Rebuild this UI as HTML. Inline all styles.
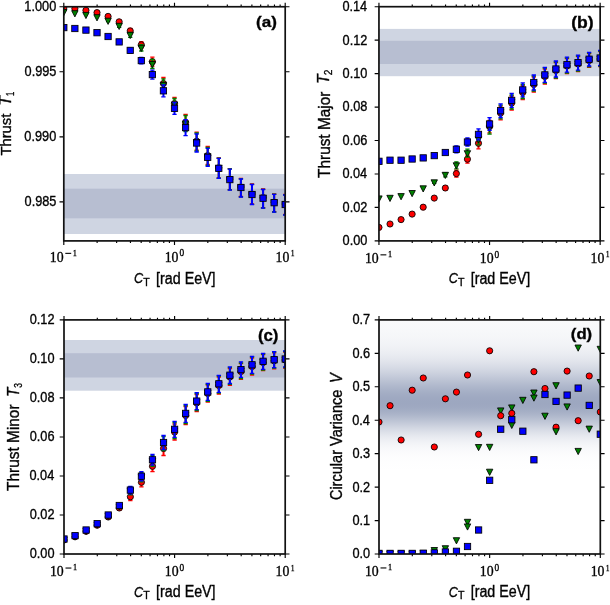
<!DOCTYPE html>
<html><head><meta charset="utf-8"><style>
html,body{margin:0;padding:0;background:#fff;}
body{width:610px;height:605px;overflow:hidden;}
svg{display:block;}
</style></head><body>
<svg width="610" height="605" viewBox="0 0 610 605">
<defs>
<clipPath id="clipa"><rect x="63.8" y="6.75" width="221.39999999999998" height="234.15"/></clipPath>
<clipPath id="clipb"><rect x="378.95" y="6.7" width="221.2" height="234.20000000000002"/></clipPath>
<clipPath id="clipc"><rect x="64.0" y="319.9" width="221.2" height="234.10000000000002"/></clipPath>
<clipPath id="clipd"><rect x="379.0" y="319.9" width="221.29999999999995" height="234.10000000000002"/></clipPath>
<linearGradient id="gd" x1="0" y1="319.9" x2="0" y2="554.0" gradientUnits="userSpaceOnUse"><stop offset="0.0000" stop-color="#253c73" stop-opacity="0.0268"/><stop offset="0.0083" stop-color="#253c73" stop-opacity="0.0283"/><stop offset="0.0167" stop-color="#253c73" stop-opacity="0.0299"/><stop offset="0.0250" stop-color="#253c73" stop-opacity="0.0316"/><stop offset="0.0333" stop-color="#253c73" stop-opacity="0.0335"/><stop offset="0.0417" stop-color="#253c73" stop-opacity="0.0356"/><stop offset="0.0500" stop-color="#253c73" stop-opacity="0.0378"/><stop offset="0.0583" stop-color="#253c73" stop-opacity="0.0404"/><stop offset="0.0667" stop-color="#253c73" stop-opacity="0.0432"/><stop offset="0.0750" stop-color="#253c73" stop-opacity="0.0464"/><stop offset="0.0833" stop-color="#253c73" stop-opacity="0.0499"/><stop offset="0.0917" stop-color="#253c73" stop-opacity="0.0540"/><stop offset="0.1000" stop-color="#253c73" stop-opacity="0.0585"/><stop offset="0.1083" stop-color="#253c73" stop-opacity="0.0637"/><stop offset="0.1167" stop-color="#253c73" stop-opacity="0.0695"/><stop offset="0.1250" stop-color="#253c73" stop-opacity="0.0760"/><stop offset="0.1333" stop-color="#253c73" stop-opacity="0.0834"/><stop offset="0.1417" stop-color="#253c73" stop-opacity="0.0917"/><stop offset="0.1500" stop-color="#253c73" stop-opacity="0.1009"/><stop offset="0.1583" stop-color="#253c73" stop-opacity="0.1111"/><stop offset="0.1667" stop-color="#253c73" stop-opacity="0.1223"/><stop offset="0.1750" stop-color="#253c73" stop-opacity="0.1347"/><stop offset="0.1833" stop-color="#253c73" stop-opacity="0.1481"/><stop offset="0.1917" stop-color="#253c73" stop-opacity="0.1627"/><stop offset="0.2000" stop-color="#253c73" stop-opacity="0.1782"/><stop offset="0.2083" stop-color="#253c73" stop-opacity="0.1948"/><stop offset="0.2167" stop-color="#253c73" stop-opacity="0.2123"/><stop offset="0.2250" stop-color="#253c73" stop-opacity="0.2306"/><stop offset="0.2333" stop-color="#253c73" stop-opacity="0.2495"/><stop offset="0.2417" stop-color="#253c73" stop-opacity="0.2689"/><stop offset="0.2500" stop-color="#253c73" stop-opacity="0.2885"/><stop offset="0.2583" stop-color="#253c73" stop-opacity="0.3082"/><stop offset="0.2667" stop-color="#253c73" stop-opacity="0.3276"/><stop offset="0.2750" stop-color="#253c73" stop-opacity="0.3464"/><stop offset="0.2833" stop-color="#253c73" stop-opacity="0.3645"/><stop offset="0.2917" stop-color="#253c73" stop-opacity="0.3816"/><stop offset="0.3000" stop-color="#253c73" stop-opacity="0.3972"/><stop offset="0.3083" stop-color="#253c73" stop-opacity="0.4113"/><stop offset="0.3167" stop-color="#253c73" stop-opacity="0.4235"/><stop offset="0.3250" stop-color="#253c73" stop-opacity="0.4335"/><stop offset="0.3333" stop-color="#253c73" stop-opacity="0.4413"/><stop offset="0.3417" stop-color="#253c73" stop-opacity="0.4467"/><stop offset="0.3500" stop-color="#253c73" stop-opacity="0.4495"/><stop offset="0.3583" stop-color="#253c73" stop-opacity="0.4497"/><stop offset="0.3667" stop-color="#253c73" stop-opacity="0.4458"/><stop offset="0.3750" stop-color="#253c73" stop-opacity="0.4378"/><stop offset="0.3833" stop-color="#253c73" stop-opacity="0.4259"/><stop offset="0.3917" stop-color="#253c73" stop-opacity="0.4104"/><stop offset="0.4000" stop-color="#253c73" stop-opacity="0.3917"/><stop offset="0.4083" stop-color="#253c73" stop-opacity="0.3703"/><stop offset="0.4167" stop-color="#253c73" stop-opacity="0.3467"/><stop offset="0.4250" stop-color="#253c73" stop-opacity="0.3216"/><stop offset="0.4333" stop-color="#253c73" stop-opacity="0.2955"/><stop offset="0.4417" stop-color="#253c73" stop-opacity="0.2689"/><stop offset="0.4500" stop-color="#253c73" stop-opacity="0.2424"/><stop offset="0.4583" stop-color="#253c73" stop-opacity="0.2165"/><stop offset="0.4667" stop-color="#253c73" stop-opacity="0.1915"/><stop offset="0.4750" stop-color="#253c73" stop-opacity="0.1677"/><stop offset="0.4833" stop-color="#253c73" stop-opacity="0.1456"/><stop offset="0.4917" stop-color="#253c73" stop-opacity="0.1251"/><stop offset="0.5000" stop-color="#253c73" stop-opacity="0.1065"/><stop offset="0.5083" stop-color="#253c73" stop-opacity="0.0899"/><stop offset="0.5167" stop-color="#253c73" stop-opacity="0.0751"/><stop offset="0.5250" stop-color="#253c73" stop-opacity="0.0621"/><stop offset="0.5333" stop-color="#253c73" stop-opacity="0.0509"/><stop offset="0.5417" stop-color="#253c73" stop-opacity="0.0413"/><stop offset="0.5500" stop-color="#253c73" stop-opacity="0.0332"/><stop offset="0.5583" stop-color="#253c73" stop-opacity="0.0265"/><stop offset="0.5667" stop-color="#253c73" stop-opacity="0.0209"/><stop offset="0.5750" stop-color="#253c73" stop-opacity="0.0163"/><stop offset="0.5833" stop-color="#253c73" stop-opacity="0.0126"/><stop offset="0.5917" stop-color="#253c73" stop-opacity="0.0097"/><stop offset="0.6000" stop-color="#253c73" stop-opacity="0.0074"/><stop offset="0.6083" stop-color="#253c73" stop-opacity="0.0055"/><stop offset="0.6167" stop-color="#253c73" stop-opacity="0.0041"/><stop offset="0.6250" stop-color="#253c73" stop-opacity="0.0030"/><stop offset="0.6333" stop-color="#253c73" stop-opacity="0.0022"/><stop offset="0.6417" stop-color="#253c73" stop-opacity="0.0016"/><stop offset="0.6500" stop-color="#253c73" stop-opacity="0.0012"/><stop offset="0.6583" stop-color="#253c73" stop-opacity="0.0008"/><stop offset="0.6667" stop-color="#253c73" stop-opacity="0.0006"/><stop offset="0.6750" stop-color="#253c73" stop-opacity="0.0004"/><stop offset="0.6833" stop-color="#253c73" stop-opacity="0.0003"/><stop offset="0.6917" stop-color="#253c73" stop-opacity="0.0002"/><stop offset="0.7000" stop-color="#253c73" stop-opacity="0.0001"/><stop offset="0.7083" stop-color="#253c73" stop-opacity="0.0001"/><stop offset="0.7167" stop-color="#253c73" stop-opacity="0.0001"/><stop offset="0.7250" stop-color="#253c73" stop-opacity="0.0000"/><stop offset="0.7333" stop-color="#253c73" stop-opacity="0.0000"/><stop offset="0.7417" stop-color="#253c73" stop-opacity="0.0000"/><stop offset="0.7500" stop-color="#253c73" stop-opacity="0.0000"/><stop offset="0.7583" stop-color="#253c73" stop-opacity="0.0000"/><stop offset="0.7667" stop-color="#253c73" stop-opacity="0.0000"/><stop offset="0.7750" stop-color="#253c73" stop-opacity="0.0000"/><stop offset="0.7833" stop-color="#253c73" stop-opacity="0.0000"/><stop offset="0.7917" stop-color="#253c73" stop-opacity="0.0000"/><stop offset="0.8000" stop-color="#253c73" stop-opacity="0.0000"/><stop offset="0.8083" stop-color="#253c73" stop-opacity="0.0000"/><stop offset="0.8167" stop-color="#253c73" stop-opacity="0.0000"/><stop offset="0.8250" stop-color="#253c73" stop-opacity="0.0000"/><stop offset="0.8333" stop-color="#253c73" stop-opacity="0.0000"/><stop offset="0.8417" stop-color="#253c73" stop-opacity="0.0000"/><stop offset="0.8500" stop-color="#253c73" stop-opacity="0.0000"/><stop offset="0.8583" stop-color="#253c73" stop-opacity="0.0000"/><stop offset="0.8667" stop-color="#253c73" stop-opacity="0.0000"/><stop offset="0.8750" stop-color="#253c73" stop-opacity="0.0000"/><stop offset="0.8833" stop-color="#253c73" stop-opacity="0.0000"/><stop offset="0.8917" stop-color="#253c73" stop-opacity="0.0000"/><stop offset="0.9000" stop-color="#253c73" stop-opacity="0.0000"/><stop offset="0.9083" stop-color="#253c73" stop-opacity="0.0000"/><stop offset="0.9167" stop-color="#253c73" stop-opacity="0.0000"/><stop offset="0.9250" stop-color="#253c73" stop-opacity="0.0000"/><stop offset="0.9333" stop-color="#253c73" stop-opacity="0.0000"/><stop offset="0.9417" stop-color="#253c73" stop-opacity="0.0000"/><stop offset="0.9500" stop-color="#253c73" stop-opacity="0.0000"/><stop offset="0.9583" stop-color="#253c73" stop-opacity="0.0000"/><stop offset="0.9667" stop-color="#253c73" stop-opacity="0.0000"/><stop offset="0.9750" stop-color="#253c73" stop-opacity="0.0000"/><stop offset="0.9833" stop-color="#253c73" stop-opacity="0.0000"/><stop offset="0.9917" stop-color="#253c73" stop-opacity="0.0000"/><stop offset="1.0000" stop-color="#253c73" stop-opacity="0.0000"/></linearGradient>
</defs>
<rect width="610" height="605" fill="#ffffff"/>
<g clip-path="url(#clipa)">
<rect x="64" y="174.0" width="221.1" height="60.0" fill="#cfd5e2"/>
<rect x="64" y="188.7" width="221.1" height="29.6" fill="#b7bed1"/>
<path d="M108.08,15.40V17.40" stroke="#ff0000" stroke-width="2.0" fill="none"/><path d="M105.93,15.40H110.23M105.93,17.40H110.23" stroke="#ff0000" stroke-width="1.3" fill="none"/><path d="M119.15,20.30V23.30" stroke="#ff0000" stroke-width="2.0" fill="none"/><path d="M117.00,20.30H121.30M117.00,23.30H121.30" stroke="#ff0000" stroke-width="1.3" fill="none"/><path d="M130.22,28.40V33.40" stroke="#ff0000" stroke-width="2.0" fill="none"/><path d="M128.07,28.40H132.37M128.07,33.40H132.37" stroke="#ff0000" stroke-width="1.3" fill="none"/><path d="M141.29,41.60V48.00" stroke="#ff0000" stroke-width="2.0" fill="none"/><path d="M139.14,41.60H143.44M139.14,48.00H143.44" stroke="#ff0000" stroke-width="1.3" fill="none"/><path d="M152.36,57.20V66.20" stroke="#ff0000" stroke-width="2.0" fill="none"/><path d="M150.21,57.20H154.51M150.21,66.20H154.51" stroke="#ff0000" stroke-width="1.3" fill="none"/><path d="M163.43,77.50V89.50" stroke="#ff0000" stroke-width="2.0" fill="none"/><path d="M161.28,77.50H165.58M161.28,89.50H165.58" stroke="#ff0000" stroke-width="1.3" fill="none"/><path d="M174.50,97.50V109.50" stroke="#ff0000" stroke-width="2.0" fill="none"/><path d="M172.35,97.50H176.65M172.35,109.50H176.65" stroke="#ff0000" stroke-width="1.3" fill="none"/><path d="M185.57,114.50V130.50" stroke="#ff0000" stroke-width="2.0" fill="none"/><path d="M183.42,114.50H187.72M183.42,130.50H187.72" stroke="#ff0000" stroke-width="1.3" fill="none"/><path d="M196.64,132.20V150.20" stroke="#ff0000" stroke-width="2.0" fill="none"/><path d="M194.49,132.20H198.79M194.49,150.20H198.79" stroke="#ff0000" stroke-width="1.3" fill="none"/><path d="M207.71,146.50V164.50" stroke="#ff0000" stroke-width="2.0" fill="none"/><path d="M205.56,146.50H209.86M205.56,164.50H209.86" stroke="#ff0000" stroke-width="1.3" fill="none"/><path d="M218.78,157.80V177.80" stroke="#ff0000" stroke-width="2.0" fill="none"/><path d="M216.63,157.80H220.93M216.63,177.80H220.93" stroke="#ff0000" stroke-width="1.3" fill="none"/><path d="M229.85,168.60V189.60" stroke="#ff0000" stroke-width="2.0" fill="none"/><path d="M227.70,168.60H232.00M227.70,189.60H232.00" stroke="#ff0000" stroke-width="1.3" fill="none"/><path d="M240.92,178.50V196.50" stroke="#ff0000" stroke-width="2.0" fill="none"/><path d="M238.77,178.50H243.07M238.77,196.50H243.07" stroke="#ff0000" stroke-width="1.3" fill="none"/><path d="M251.99,184.00V204.00" stroke="#ff0000" stroke-width="2.0" fill="none"/><path d="M249.84,184.00H254.14M249.84,204.00H254.14" stroke="#ff0000" stroke-width="1.3" fill="none"/><path d="M263.06,189.00V207.70" stroke="#ff0000" stroke-width="2.0" fill="none"/><path d="M260.91,189.00H265.21M260.91,207.70H265.21" stroke="#ff0000" stroke-width="1.3" fill="none"/><path d="M274.13,193.90V211.70" stroke="#ff0000" stroke-width="2.0" fill="none"/><path d="M271.98,193.90H276.28M271.98,211.70H276.28" stroke="#ff0000" stroke-width="1.3" fill="none"/><path d="M285.20,194.50V214.50" stroke="#ff0000" stroke-width="2.0" fill="none"/><path d="M283.05,194.50H287.35M283.05,214.50H287.35" stroke="#ff0000" stroke-width="1.3" fill="none"/><circle cx="63.80" cy="8.00" r="3.1" fill="#ff0000" stroke="#000000" stroke-width="0.85"/><circle cx="74.87" cy="8.60" r="3.1" fill="#ff0000" stroke="#000000" stroke-width="0.85"/><circle cx="85.94" cy="10.30" r="3.1" fill="#ff0000" stroke="#000000" stroke-width="0.85"/><circle cx="97.01" cy="12.60" r="3.1" fill="#ff0000" stroke="#000000" stroke-width="0.85"/><circle cx="108.08" cy="16.40" r="3.1" fill="#ff0000" stroke="#000000" stroke-width="0.85"/><circle cx="119.15" cy="21.80" r="3.1" fill="#ff0000" stroke="#000000" stroke-width="0.85"/><circle cx="130.22" cy="30.90" r="3.1" fill="#ff0000" stroke="#000000" stroke-width="0.85"/><circle cx="141.29" cy="44.80" r="3.1" fill="#ff0000" stroke="#000000" stroke-width="0.85"/><circle cx="152.36" cy="61.70" r="3.1" fill="#ff0000" stroke="#000000" stroke-width="0.85"/><circle cx="163.43" cy="83.50" r="3.1" fill="#ff0000" stroke="#000000" stroke-width="0.85"/><circle cx="174.50" cy="103.50" r="3.1" fill="#ff0000" stroke="#000000" stroke-width="0.85"/><circle cx="185.57" cy="122.50" r="3.1" fill="#ff0000" stroke="#000000" stroke-width="0.85"/><circle cx="196.64" cy="141.20" r="3.1" fill="#ff0000" stroke="#000000" stroke-width="0.85"/><circle cx="207.71" cy="155.50" r="3.1" fill="#ff0000" stroke="#000000" stroke-width="0.85"/><circle cx="218.78" cy="167.80" r="3.1" fill="#ff0000" stroke="#000000" stroke-width="0.85"/><circle cx="229.85" cy="179.10" r="3.1" fill="#ff0000" stroke="#000000" stroke-width="0.85"/><circle cx="240.92" cy="187.00" r="3.1" fill="#ff0000" stroke="#000000" stroke-width="0.85"/><circle cx="251.99" cy="194.00" r="3.1" fill="#ff0000" stroke="#000000" stroke-width="0.85"/><circle cx="263.06" cy="197.70" r="3.1" fill="#ff0000" stroke="#000000" stroke-width="0.85"/><circle cx="274.13" cy="202.20" r="3.1" fill="#ff0000" stroke="#000000" stroke-width="0.85"/><circle cx="285.20" cy="204.00" r="3.1" fill="#ff0000" stroke="#000000" stroke-width="0.85"/>
<path d="M108.08,19.70V21.70" stroke="#008000" stroke-width="2.0" fill="none"/><path d="M105.93,19.70H110.23M105.93,21.70H110.23" stroke="#008000" stroke-width="1.3" fill="none"/><path d="M119.15,24.30V27.30" stroke="#008000" stroke-width="2.0" fill="none"/><path d="M117.00,24.30H121.30M117.00,27.30H121.30" stroke="#008000" stroke-width="1.3" fill="none"/><path d="M130.22,32.40V37.40" stroke="#008000" stroke-width="2.0" fill="none"/><path d="M128.07,32.40H132.37M128.07,37.40H132.37" stroke="#008000" stroke-width="1.3" fill="none"/><path d="M141.29,44.60V51.00" stroke="#008000" stroke-width="2.0" fill="none"/><path d="M139.14,44.60H143.44M139.14,51.00H143.44" stroke="#008000" stroke-width="1.3" fill="none"/><path d="M152.36,59.50V68.50" stroke="#008000" stroke-width="2.0" fill="none"/><path d="M150.21,59.50H154.51M150.21,68.50H154.51" stroke="#008000" stroke-width="1.3" fill="none"/><path d="M163.43,78.90V90.90" stroke="#008000" stroke-width="2.0" fill="none"/><path d="M161.28,78.90H165.58M161.28,90.90H165.58" stroke="#008000" stroke-width="1.3" fill="none"/><path d="M174.50,98.50V110.50" stroke="#008000" stroke-width="2.0" fill="none"/><path d="M172.35,98.50H176.65M172.35,110.50H176.65" stroke="#008000" stroke-width="1.3" fill="none"/><path d="M185.57,115.50V131.50" stroke="#008000" stroke-width="2.0" fill="none"/><path d="M183.42,115.50H187.72M183.42,131.50H187.72" stroke="#008000" stroke-width="1.3" fill="none"/><path d="M196.64,133.00V151.00" stroke="#008000" stroke-width="2.0" fill="none"/><path d="M194.49,133.00H198.79M194.49,151.00H198.79" stroke="#008000" stroke-width="1.3" fill="none"/><path d="M207.71,147.30V165.30" stroke="#008000" stroke-width="2.0" fill="none"/><path d="M205.56,147.30H209.86M205.56,165.30H209.86" stroke="#008000" stroke-width="1.3" fill="none"/><path d="M218.78,158.10V178.10" stroke="#008000" stroke-width="2.0" fill="none"/><path d="M216.63,158.10H220.93M216.63,178.10H220.93" stroke="#008000" stroke-width="1.3" fill="none"/><path d="M229.85,168.90V189.90" stroke="#008000" stroke-width="2.0" fill="none"/><path d="M227.70,168.90H232.00M227.70,189.90H232.00" stroke="#008000" stroke-width="1.3" fill="none"/><path d="M240.92,178.80V196.80" stroke="#008000" stroke-width="2.0" fill="none"/><path d="M238.77,178.80H243.07M238.77,196.80H243.07" stroke="#008000" stroke-width="1.3" fill="none"/><path d="M251.99,184.30V204.30" stroke="#008000" stroke-width="2.0" fill="none"/><path d="M249.84,184.30H254.14M249.84,204.30H254.14" stroke="#008000" stroke-width="1.3" fill="none"/><path d="M263.06,189.30V208.00" stroke="#008000" stroke-width="2.0" fill="none"/><path d="M260.91,189.30H265.21M260.91,208.00H265.21" stroke="#008000" stroke-width="1.3" fill="none"/><path d="M274.13,194.20V212.00" stroke="#008000" stroke-width="2.0" fill="none"/><path d="M271.98,194.20H276.28M271.98,212.00H276.28" stroke="#008000" stroke-width="1.3" fill="none"/><path d="M285.20,194.80V214.80" stroke="#008000" stroke-width="2.0" fill="none"/><path d="M283.05,194.80H287.35M283.05,214.80H287.35" stroke="#008000" stroke-width="1.3" fill="none"/><polygon points="60.60,9.50 67.00,9.50 63.80,15.70" fill="#008000" stroke="#000000" stroke-width="0.85"/><polygon points="71.67,10.70 78.07,10.70 74.87,16.90" fill="#008000" stroke="#000000" stroke-width="0.85"/><polygon points="82.74,12.40 89.14,12.40 85.94,18.60" fill="#008000" stroke="#000000" stroke-width="0.85"/><polygon points="93.81,14.70 100.21,14.70 97.01,20.90" fill="#008000" stroke="#000000" stroke-width="0.85"/><polygon points="104.88,18.20 111.28,18.20 108.08,24.40" fill="#008000" stroke="#000000" stroke-width="0.85"/><polygon points="115.95,23.30 122.35,23.30 119.15,29.50" fill="#008000" stroke="#000000" stroke-width="0.85"/><polygon points="127.02,32.40 133.42,32.40 130.22,38.60" fill="#008000" stroke="#000000" stroke-width="0.85"/><polygon points="138.09,45.30 144.49,45.30 141.29,51.50" fill="#008000" stroke="#000000" stroke-width="0.85"/><polygon points="149.16,61.50 155.56,61.50 152.36,67.70" fill="#008000" stroke="#000000" stroke-width="0.85"/><polygon points="160.23,82.40 166.63,82.40 163.43,88.60" fill="#008000" stroke="#000000" stroke-width="0.85"/><polygon points="171.30,102.00 177.70,102.00 174.50,108.20" fill="#008000" stroke="#000000" stroke-width="0.85"/><polygon points="182.37,121.00 188.77,121.00 185.57,127.20" fill="#008000" stroke="#000000" stroke-width="0.85"/><polygon points="193.44,139.50 199.84,139.50 196.64,145.70" fill="#008000" stroke="#000000" stroke-width="0.85"/><polygon points="204.51,153.80 210.91,153.80 207.71,160.00" fill="#008000" stroke="#000000" stroke-width="0.85"/><polygon points="215.58,165.60 221.98,165.60 218.78,171.80" fill="#008000" stroke="#000000" stroke-width="0.85"/><polygon points="226.65,176.90 233.05,176.90 229.85,183.10" fill="#008000" stroke="#000000" stroke-width="0.85"/><polygon points="237.72,184.80 244.12,184.80 240.92,191.00" fill="#008000" stroke="#000000" stroke-width="0.85"/><polygon points="248.79,191.80 255.19,191.80 251.99,198.00" fill="#008000" stroke="#000000" stroke-width="0.85"/><polygon points="259.86,195.50 266.26,195.50 263.06,201.70" fill="#008000" stroke="#000000" stroke-width="0.85"/><polygon points="270.93,200.00 277.33,200.00 274.13,206.20" fill="#008000" stroke="#000000" stroke-width="0.85"/><polygon points="282.00,201.80 288.40,201.80 285.20,208.00" fill="#008000" stroke="#000000" stroke-width="0.85"/>
<path d="M108.08,35.50V37.50" stroke="#0000ff" stroke-width="2.0" fill="none"/><path d="M105.93,35.50H110.23M105.93,37.50H110.23" stroke="#0000ff" stroke-width="1.3" fill="none"/><path d="M119.15,40.40V43.40" stroke="#0000ff" stroke-width="2.0" fill="none"/><path d="M117.00,40.40H121.30M117.00,43.40H121.30" stroke="#0000ff" stroke-width="1.3" fill="none"/><path d="M130.22,47.90V52.90" stroke="#0000ff" stroke-width="2.0" fill="none"/><path d="M128.07,47.90H132.37M128.07,52.90H132.37" stroke="#0000ff" stroke-width="1.3" fill="none"/><path d="M141.29,57.40V63.80" stroke="#0000ff" stroke-width="2.0" fill="none"/><path d="M139.14,57.40H143.44M139.14,63.80H143.44" stroke="#0000ff" stroke-width="1.3" fill="none"/><path d="M152.36,70.10V79.10" stroke="#0000ff" stroke-width="2.0" fill="none"/><path d="M150.21,70.10H154.51M150.21,79.10H154.51" stroke="#0000ff" stroke-width="1.3" fill="none"/><path d="M163.43,84.80V96.80" stroke="#0000ff" stroke-width="2.0" fill="none"/><path d="M161.28,84.80H165.58M161.28,96.80H165.58" stroke="#0000ff" stroke-width="1.3" fill="none"/><path d="M174.50,102.30V114.30" stroke="#0000ff" stroke-width="2.0" fill="none"/><path d="M172.35,102.30H176.65M172.35,114.30H176.65" stroke="#0000ff" stroke-width="1.3" fill="none"/><path d="M185.57,119.60V135.60" stroke="#0000ff" stroke-width="2.0" fill="none"/><path d="M183.42,119.60H187.72M183.42,135.60H187.72" stroke="#0000ff" stroke-width="1.3" fill="none"/><path d="M196.64,134.00V152.00" stroke="#0000ff" stroke-width="2.0" fill="none"/><path d="M194.49,134.00H198.79M194.49,152.00H198.79" stroke="#0000ff" stroke-width="1.3" fill="none"/><path d="M207.71,148.30V166.30" stroke="#0000ff" stroke-width="2.0" fill="none"/><path d="M205.56,148.30H209.86M205.56,166.30H209.86" stroke="#0000ff" stroke-width="1.3" fill="none"/><path d="M218.78,158.30V178.30" stroke="#0000ff" stroke-width="2.0" fill="none"/><path d="M216.63,158.30H220.93M216.63,178.30H220.93" stroke="#0000ff" stroke-width="1.3" fill="none"/><path d="M229.85,169.10V190.10" stroke="#0000ff" stroke-width="2.0" fill="none"/><path d="M227.70,169.10H232.00M227.70,190.10H232.00" stroke="#0000ff" stroke-width="1.3" fill="none"/><path d="M240.92,179.00V197.00" stroke="#0000ff" stroke-width="2.0" fill="none"/><path d="M238.77,179.00H243.07M238.77,197.00H243.07" stroke="#0000ff" stroke-width="1.3" fill="none"/><path d="M251.99,184.50V204.50" stroke="#0000ff" stroke-width="2.0" fill="none"/><path d="M249.84,184.50H254.14M249.84,204.50H254.14" stroke="#0000ff" stroke-width="1.3" fill="none"/><path d="M263.06,189.50V208.20" stroke="#0000ff" stroke-width="2.0" fill="none"/><path d="M260.91,189.50H265.21M260.91,208.20H265.21" stroke="#0000ff" stroke-width="1.3" fill="none"/><path d="M274.13,194.40V212.20" stroke="#0000ff" stroke-width="2.0" fill="none"/><path d="M271.98,194.40H276.28M271.98,212.20H276.28" stroke="#0000ff" stroke-width="1.3" fill="none"/><path d="M285.20,195.00V215.00" stroke="#0000ff" stroke-width="2.0" fill="none"/><path d="M283.05,195.00H287.35M283.05,215.00H287.35" stroke="#0000ff" stroke-width="1.3" fill="none"/><rect x="60.65" y="24.45" width="6.30" height="6.30" fill="#0000ff" stroke="#000000" stroke-width="0.85"/><rect x="71.72" y="25.35" width="6.30" height="6.30" fill="#0000ff" stroke="#000000" stroke-width="0.85"/><rect x="82.79" y="26.95" width="6.30" height="6.30" fill="#0000ff" stroke="#000000" stroke-width="0.85"/><rect x="93.86" y="29.55" width="6.30" height="6.30" fill="#0000ff" stroke="#000000" stroke-width="0.85"/><rect x="104.93" y="33.35" width="6.30" height="6.30" fill="#0000ff" stroke="#000000" stroke-width="0.85"/><rect x="116.00" y="38.75" width="6.30" height="6.30" fill="#0000ff" stroke="#000000" stroke-width="0.85"/><rect x="127.07" y="47.25" width="6.30" height="6.30" fill="#0000ff" stroke="#000000" stroke-width="0.85"/><rect x="138.14" y="57.45" width="6.30" height="6.30" fill="#0000ff" stroke="#000000" stroke-width="0.85"/><rect x="149.21" y="71.45" width="6.30" height="6.30" fill="#0000ff" stroke="#000000" stroke-width="0.85"/><rect x="160.28" y="87.65" width="6.30" height="6.30" fill="#0000ff" stroke="#000000" stroke-width="0.85"/><rect x="171.35" y="105.15" width="6.30" height="6.30" fill="#0000ff" stroke="#000000" stroke-width="0.85"/><rect x="182.42" y="124.45" width="6.30" height="6.30" fill="#0000ff" stroke="#000000" stroke-width="0.85"/><rect x="193.49" y="139.85" width="6.30" height="6.30" fill="#0000ff" stroke="#000000" stroke-width="0.85"/><rect x="204.56" y="154.15" width="6.30" height="6.30" fill="#0000ff" stroke="#000000" stroke-width="0.85"/><rect x="215.63" y="165.15" width="6.30" height="6.30" fill="#0000ff" stroke="#000000" stroke-width="0.85"/><rect x="226.70" y="176.45" width="6.30" height="6.30" fill="#0000ff" stroke="#000000" stroke-width="0.85"/><rect x="237.77" y="184.35" width="6.30" height="6.30" fill="#0000ff" stroke="#000000" stroke-width="0.85"/><rect x="248.84" y="191.35" width="6.30" height="6.30" fill="#0000ff" stroke="#000000" stroke-width="0.85"/><rect x="259.91" y="195.05" width="6.30" height="6.30" fill="#0000ff" stroke="#000000" stroke-width="0.85"/><rect x="270.98" y="199.55" width="6.30" height="6.30" fill="#0000ff" stroke="#000000" stroke-width="0.85"/><rect x="282.05" y="201.35" width="6.30" height="6.30" fill="#0000ff" stroke="#000000" stroke-width="0.85"/>
</g>
<g clip-path="url(#clipb)">
<rect x="379" y="28.9" width="221.1" height="47.3" fill="#cfd5e2"/>
<rect x="379" y="40.8" width="221.1" height="23.2" fill="#b7bed1"/>
<path d="M434.25,197.10V199.10" stroke="#ff0000" stroke-width="2.0" fill="none"/><path d="M432.10,197.10H436.40M432.10,199.10H436.40" stroke="#ff0000" stroke-width="1.3" fill="none"/><path d="M445.31,186.00V190.00" stroke="#ff0000" stroke-width="2.0" fill="none"/><path d="M443.16,186.00H447.46M443.16,190.00H447.46" stroke="#ff0000" stroke-width="1.3" fill="none"/><path d="M456.37,170.10V177.10" stroke="#ff0000" stroke-width="2.0" fill="none"/><path d="M454.22,170.10H458.52M454.22,177.10H458.52" stroke="#ff0000" stroke-width="1.3" fill="none"/><path d="M467.43,155.20V163.20" stroke="#ff0000" stroke-width="2.0" fill="none"/><path d="M465.28,155.20H469.58M465.28,163.20H469.58" stroke="#ff0000" stroke-width="1.3" fill="none"/><path d="M478.49,137.80V148.80" stroke="#ff0000" stroke-width="2.0" fill="none"/><path d="M476.34,137.80H480.64M476.34,148.80H480.64" stroke="#ff0000" stroke-width="1.3" fill="none"/><path d="M489.55,120.30V132.90" stroke="#ff0000" stroke-width="2.0" fill="none"/><path d="M487.40,120.30H491.70M487.40,132.90H491.70" stroke="#ff0000" stroke-width="1.3" fill="none"/><path d="M500.61,106.20V119.80" stroke="#ff0000" stroke-width="2.0" fill="none"/><path d="M498.46,106.20H502.76M498.46,119.80H502.76" stroke="#ff0000" stroke-width="1.3" fill="none"/><path d="M511.67,96.00V110.00" stroke="#ff0000" stroke-width="2.0" fill="none"/><path d="M509.52,96.00H513.82M509.52,110.00H513.82" stroke="#ff0000" stroke-width="1.3" fill="none"/><path d="M522.73,85.50V99.50" stroke="#ff0000" stroke-width="2.0" fill="none"/><path d="M520.58,85.50H524.88M520.58,99.50H524.88" stroke="#ff0000" stroke-width="1.3" fill="none"/><path d="M533.79,77.00V92.00" stroke="#ff0000" stroke-width="2.0" fill="none"/><path d="M531.64,77.00H535.94M531.64,92.00H535.94" stroke="#ff0000" stroke-width="1.3" fill="none"/><path d="M544.85,69.00V84.00" stroke="#ff0000" stroke-width="2.0" fill="none"/><path d="M542.70,69.00H547.00M542.70,84.00H547.00" stroke="#ff0000" stroke-width="1.3" fill="none"/><path d="M555.91,62.50V78.50" stroke="#ff0000" stroke-width="2.0" fill="none"/><path d="M553.76,62.50H558.06M553.76,78.50H558.06" stroke="#ff0000" stroke-width="1.3" fill="none"/><path d="M566.97,58.50V73.50" stroke="#ff0000" stroke-width="2.0" fill="none"/><path d="M564.82,58.50H569.12M564.82,73.50H569.12" stroke="#ff0000" stroke-width="1.3" fill="none"/><path d="M578.03,56.50V71.50" stroke="#ff0000" stroke-width="2.0" fill="none"/><path d="M575.88,56.50H580.18M575.88,71.50H580.18" stroke="#ff0000" stroke-width="1.3" fill="none"/><path d="M589.09,53.70V67.30" stroke="#ff0000" stroke-width="2.0" fill="none"/><path d="M586.94,53.70H591.24M586.94,67.30H591.24" stroke="#ff0000" stroke-width="1.3" fill="none"/><path d="M600.15,51.50V66.50" stroke="#ff0000" stroke-width="2.0" fill="none"/><path d="M598.00,51.50H602.30M598.00,66.50H602.30" stroke="#ff0000" stroke-width="1.3" fill="none"/><circle cx="378.95" cy="227.40" r="3.1" fill="#ff0000" stroke="#000000" stroke-width="0.85"/><circle cx="390.01" cy="224.00" r="3.1" fill="#ff0000" stroke="#000000" stroke-width="0.85"/><circle cx="401.07" cy="219.60" r="3.1" fill="#ff0000" stroke="#000000" stroke-width="0.85"/><circle cx="412.13" cy="214.10" r="3.1" fill="#ff0000" stroke="#000000" stroke-width="0.85"/><circle cx="423.19" cy="207.20" r="3.1" fill="#ff0000" stroke="#000000" stroke-width="0.85"/><circle cx="434.25" cy="198.10" r="3.1" fill="#ff0000" stroke="#000000" stroke-width="0.85"/><circle cx="445.31" cy="188.00" r="3.1" fill="#ff0000" stroke="#000000" stroke-width="0.85"/><circle cx="456.37" cy="173.60" r="3.1" fill="#ff0000" stroke="#000000" stroke-width="0.85"/><circle cx="467.43" cy="159.20" r="3.1" fill="#ff0000" stroke="#000000" stroke-width="0.85"/><circle cx="478.49" cy="143.30" r="3.1" fill="#ff0000" stroke="#000000" stroke-width="0.85"/><circle cx="489.55" cy="126.60" r="3.1" fill="#ff0000" stroke="#000000" stroke-width="0.85"/><circle cx="500.61" cy="113.00" r="3.1" fill="#ff0000" stroke="#000000" stroke-width="0.85"/><circle cx="511.67" cy="103.00" r="3.1" fill="#ff0000" stroke="#000000" stroke-width="0.85"/><circle cx="522.73" cy="92.50" r="3.1" fill="#ff0000" stroke="#000000" stroke-width="0.85"/><circle cx="533.79" cy="84.50" r="3.1" fill="#ff0000" stroke="#000000" stroke-width="0.85"/><circle cx="544.85" cy="76.50" r="3.1" fill="#ff0000" stroke="#000000" stroke-width="0.85"/><circle cx="555.91" cy="70.50" r="3.1" fill="#ff0000" stroke="#000000" stroke-width="0.85"/><circle cx="566.97" cy="66.00" r="3.1" fill="#ff0000" stroke="#000000" stroke-width="0.85"/><circle cx="578.03" cy="64.00" r="3.1" fill="#ff0000" stroke="#000000" stroke-width="0.85"/><circle cx="589.09" cy="60.50" r="3.1" fill="#ff0000" stroke="#000000" stroke-width="0.85"/><circle cx="600.15" cy="59.00" r="3.1" fill="#ff0000" stroke="#000000" stroke-width="0.85"/>
<path d="M434.25,181.30V183.30" stroke="#008000" stroke-width="2.0" fill="none"/><path d="M432.10,181.30H436.40M432.10,183.30H436.40" stroke="#008000" stroke-width="1.3" fill="none"/><path d="M445.31,172.80V176.80" stroke="#008000" stroke-width="2.0" fill="none"/><path d="M443.16,172.80H447.46M443.16,176.80H447.46" stroke="#008000" stroke-width="1.3" fill="none"/><path d="M456.37,161.80V168.80" stroke="#008000" stroke-width="2.0" fill="none"/><path d="M454.22,161.80H458.52M454.22,168.80H458.52" stroke="#008000" stroke-width="1.3" fill="none"/><path d="M467.43,149.20V157.20" stroke="#008000" stroke-width="2.0" fill="none"/><path d="M465.28,149.20H469.58M465.28,157.20H469.58" stroke="#008000" stroke-width="1.3" fill="none"/><path d="M478.49,133.80V144.80" stroke="#008000" stroke-width="2.0" fill="none"/><path d="M476.34,133.80H480.64M476.34,144.80H480.64" stroke="#008000" stroke-width="1.3" fill="none"/><path d="M489.55,121.50V134.10" stroke="#008000" stroke-width="2.0" fill="none"/><path d="M487.40,121.50H491.70M487.40,134.10H491.70" stroke="#008000" stroke-width="1.3" fill="none"/><path d="M500.61,105.20V118.80" stroke="#008000" stroke-width="2.0" fill="none"/><path d="M498.46,105.20H502.76M498.46,118.80H502.76" stroke="#008000" stroke-width="1.3" fill="none"/><path d="M511.67,95.00V109.00" stroke="#008000" stroke-width="2.0" fill="none"/><path d="M509.52,95.00H513.82M509.52,109.00H513.82" stroke="#008000" stroke-width="1.3" fill="none"/><path d="M522.73,84.50V98.50" stroke="#008000" stroke-width="2.0" fill="none"/><path d="M520.58,84.50H524.88M520.58,98.50H524.88" stroke="#008000" stroke-width="1.3" fill="none"/><path d="M533.79,76.00V91.00" stroke="#008000" stroke-width="2.0" fill="none"/><path d="M531.64,76.00H535.94M531.64,91.00H535.94" stroke="#008000" stroke-width="1.3" fill="none"/><path d="M544.85,68.00V83.00" stroke="#008000" stroke-width="2.0" fill="none"/><path d="M542.70,68.00H547.00M542.70,83.00H547.00" stroke="#008000" stroke-width="1.3" fill="none"/><path d="M555.91,62.00V78.00" stroke="#008000" stroke-width="2.0" fill="none"/><path d="M553.76,62.00H558.06M553.76,78.00H558.06" stroke="#008000" stroke-width="1.3" fill="none"/><path d="M566.97,58.00V73.00" stroke="#008000" stroke-width="2.0" fill="none"/><path d="M564.82,58.00H569.12M564.82,73.00H569.12" stroke="#008000" stroke-width="1.3" fill="none"/><path d="M578.03,56.00V71.00" stroke="#008000" stroke-width="2.0" fill="none"/><path d="M575.88,56.00H580.18M575.88,71.00H580.18" stroke="#008000" stroke-width="1.3" fill="none"/><path d="M589.09,53.20V66.80" stroke="#008000" stroke-width="2.0" fill="none"/><path d="M586.94,53.20H591.24M586.94,66.80H591.24" stroke="#008000" stroke-width="1.3" fill="none"/><path d="M600.15,51.00V66.00" stroke="#008000" stroke-width="2.0" fill="none"/><path d="M598.00,51.00H602.30M598.00,66.00H602.30" stroke="#008000" stroke-width="1.3" fill="none"/><polygon points="375.75,195.90 382.15,195.90 378.95,202.10" fill="#008000" stroke="#000000" stroke-width="0.85"/><polygon points="386.81,195.30 393.21,195.30 390.01,201.50" fill="#008000" stroke="#000000" stroke-width="0.85"/><polygon points="397.87,193.60 404.27,193.60 401.07,199.80" fill="#008000" stroke="#000000" stroke-width="0.85"/><polygon points="408.93,190.50 415.33,190.50 412.13,196.70" fill="#008000" stroke="#000000" stroke-width="0.85"/><polygon points="419.99,185.80 426.39,185.80 423.19,192.00" fill="#008000" stroke="#000000" stroke-width="0.85"/><polygon points="431.05,179.80 437.45,179.80 434.25,186.00" fill="#008000" stroke="#000000" stroke-width="0.85"/><polygon points="442.11,172.30 448.51,172.30 445.31,178.50" fill="#008000" stroke="#000000" stroke-width="0.85"/><polygon points="453.17,162.80 459.57,162.80 456.37,169.00" fill="#008000" stroke="#000000" stroke-width="0.85"/><polygon points="464.23,150.70 470.63,150.70 467.43,156.90" fill="#008000" stroke="#000000" stroke-width="0.85"/><polygon points="475.29,136.80 481.69,136.80 478.49,143.00" fill="#008000" stroke="#000000" stroke-width="0.85"/><polygon points="486.35,125.30 492.75,125.30 489.55,131.50" fill="#008000" stroke="#000000" stroke-width="0.85"/><polygon points="497.41,109.50 503.81,109.50 500.61,115.70" fill="#008000" stroke="#000000" stroke-width="0.85"/><polygon points="508.47,99.50 514.87,99.50 511.67,105.70" fill="#008000" stroke="#000000" stroke-width="0.85"/><polygon points="519.53,89.00 525.93,89.00 522.73,95.20" fill="#008000" stroke="#000000" stroke-width="0.85"/><polygon points="530.59,81.00 536.99,81.00 533.79,87.20" fill="#008000" stroke="#000000" stroke-width="0.85"/><polygon points="541.65,73.00 548.05,73.00 544.85,79.20" fill="#008000" stroke="#000000" stroke-width="0.85"/><polygon points="552.71,67.50 559.11,67.50 555.91,73.70" fill="#008000" stroke="#000000" stroke-width="0.85"/><polygon points="563.77,63.00 570.17,63.00 566.97,69.20" fill="#008000" stroke="#000000" stroke-width="0.85"/><polygon points="574.83,61.00 581.23,61.00 578.03,67.20" fill="#008000" stroke="#000000" stroke-width="0.85"/><polygon points="585.89,57.50 592.29,57.50 589.09,63.70" fill="#008000" stroke="#000000" stroke-width="0.85"/><polygon points="596.95,56.00 603.35,56.00 600.15,62.20" fill="#008000" stroke="#000000" stroke-width="0.85"/>
<path d="M434.25,154.60V156.60" stroke="#0000ff" stroke-width="2.0" fill="none"/><path d="M432.10,154.60H436.40M432.10,156.60H436.40" stroke="#0000ff" stroke-width="1.3" fill="none"/><path d="M445.31,150.50V154.50" stroke="#0000ff" stroke-width="2.0" fill="none"/><path d="M443.16,150.50H447.46M443.16,154.50H447.46" stroke="#0000ff" stroke-width="1.3" fill="none"/><path d="M456.37,145.80V152.80" stroke="#0000ff" stroke-width="2.0" fill="none"/><path d="M454.22,145.80H458.52M454.22,152.80H458.52" stroke="#0000ff" stroke-width="1.3" fill="none"/><path d="M467.43,138.00V146.00" stroke="#0000ff" stroke-width="2.0" fill="none"/><path d="M465.28,138.00H469.58M465.28,146.00H469.58" stroke="#0000ff" stroke-width="1.3" fill="none"/><path d="M478.49,128.90V139.90" stroke="#0000ff" stroke-width="2.0" fill="none"/><path d="M476.34,128.90H480.64M476.34,139.90H480.64" stroke="#0000ff" stroke-width="1.3" fill="none"/><path d="M489.55,117.70V130.30" stroke="#0000ff" stroke-width="2.0" fill="none"/><path d="M487.40,117.70H491.70M487.40,130.30H491.70" stroke="#0000ff" stroke-width="1.3" fill="none"/><path d="M500.61,103.90V117.50" stroke="#0000ff" stroke-width="2.0" fill="none"/><path d="M498.46,103.90H502.76M498.46,117.50H502.76" stroke="#0000ff" stroke-width="1.3" fill="none"/><path d="M511.67,93.40V107.40" stroke="#0000ff" stroke-width="2.0" fill="none"/><path d="M509.52,93.40H513.82M509.52,107.40H513.82" stroke="#0000ff" stroke-width="1.3" fill="none"/><path d="M522.73,82.90V96.90" stroke="#0000ff" stroke-width="2.0" fill="none"/><path d="M520.58,82.90H524.88M520.58,96.90H524.88" stroke="#0000ff" stroke-width="1.3" fill="none"/><path d="M533.79,75.00V90.00" stroke="#0000ff" stroke-width="2.0" fill="none"/><path d="M531.64,75.00H535.94M531.64,90.00H535.94" stroke="#0000ff" stroke-width="1.3" fill="none"/><path d="M544.85,67.40V82.40" stroke="#0000ff" stroke-width="2.0" fill="none"/><path d="M542.70,67.40H547.00M542.70,82.40H547.00" stroke="#0000ff" stroke-width="1.3" fill="none"/><path d="M555.91,61.00V77.00" stroke="#0000ff" stroke-width="2.0" fill="none"/><path d="M553.76,61.00H558.06M553.76,77.00H558.06" stroke="#0000ff" stroke-width="1.3" fill="none"/><path d="M566.97,57.20V72.20" stroke="#0000ff" stroke-width="2.0" fill="none"/><path d="M564.82,57.20H569.12M564.82,72.20H569.12" stroke="#0000ff" stroke-width="1.3" fill="none"/><path d="M578.03,55.10V70.10" stroke="#0000ff" stroke-width="2.0" fill="none"/><path d="M575.88,55.10H580.18M575.88,70.10H580.18" stroke="#0000ff" stroke-width="1.3" fill="none"/><path d="M589.09,52.40V66.00" stroke="#0000ff" stroke-width="2.0" fill="none"/><path d="M586.94,52.40H591.24M586.94,66.00H591.24" stroke="#0000ff" stroke-width="1.3" fill="none"/><path d="M600.15,50.50V65.50" stroke="#0000ff" stroke-width="2.0" fill="none"/><path d="M598.00,50.50H602.30M598.00,65.50H602.30" stroke="#0000ff" stroke-width="1.3" fill="none"/><rect x="375.80" y="158.15" width="6.30" height="6.30" fill="#0000ff" stroke="#000000" stroke-width="0.85"/><rect x="386.86" y="157.05" width="6.30" height="6.30" fill="#0000ff" stroke="#000000" stroke-width="0.85"/><rect x="397.92" y="157.05" width="6.30" height="6.30" fill="#0000ff" stroke="#000000" stroke-width="0.85"/><rect x="408.98" y="155.85" width="6.30" height="6.30" fill="#0000ff" stroke="#000000" stroke-width="0.85"/><rect x="420.04" y="154.75" width="6.30" height="6.30" fill="#0000ff" stroke="#000000" stroke-width="0.85"/><rect x="431.10" y="152.45" width="6.30" height="6.30" fill="#0000ff" stroke="#000000" stroke-width="0.85"/><rect x="442.16" y="149.35" width="6.30" height="6.30" fill="#0000ff" stroke="#000000" stroke-width="0.85"/><rect x="453.22" y="146.15" width="6.30" height="6.30" fill="#0000ff" stroke="#000000" stroke-width="0.85"/><rect x="464.28" y="138.85" width="6.30" height="6.30" fill="#0000ff" stroke="#000000" stroke-width="0.85"/><rect x="475.34" y="131.25" width="6.30" height="6.30" fill="#0000ff" stroke="#000000" stroke-width="0.85"/><rect x="486.40" y="120.85" width="6.30" height="6.30" fill="#0000ff" stroke="#000000" stroke-width="0.85"/><rect x="497.46" y="107.55" width="6.30" height="6.30" fill="#0000ff" stroke="#000000" stroke-width="0.85"/><rect x="508.52" y="97.25" width="6.30" height="6.30" fill="#0000ff" stroke="#000000" stroke-width="0.85"/><rect x="519.58" y="86.75" width="6.30" height="6.30" fill="#0000ff" stroke="#000000" stroke-width="0.85"/><rect x="530.64" y="79.35" width="6.30" height="6.30" fill="#0000ff" stroke="#000000" stroke-width="0.85"/><rect x="541.70" y="71.75" width="6.30" height="6.30" fill="#0000ff" stroke="#000000" stroke-width="0.85"/><rect x="552.76" y="65.85" width="6.30" height="6.30" fill="#0000ff" stroke="#000000" stroke-width="0.85"/><rect x="563.82" y="61.55" width="6.30" height="6.30" fill="#0000ff" stroke="#000000" stroke-width="0.85"/><rect x="574.88" y="59.45" width="6.30" height="6.30" fill="#0000ff" stroke="#000000" stroke-width="0.85"/><rect x="585.94" y="56.05" width="6.30" height="6.30" fill="#0000ff" stroke="#000000" stroke-width="0.85"/><rect x="597.00" y="54.85" width="6.30" height="6.30" fill="#0000ff" stroke="#000000" stroke-width="0.85"/>
</g>
<g clip-path="url(#clipc)">
<rect x="64" y="340.0" width="221.1" height="50.7" fill="#cfd5e2"/>
<rect x="64" y="353.2" width="221.1" height="24.3" fill="#b7bed1"/>
<path d="M97.18,524.20V526.20" stroke="#ff0000" stroke-width="2.0" fill="none"/><path d="M95.03,524.20H99.33M95.03,526.20H99.33" stroke="#ff0000" stroke-width="1.3" fill="none"/><path d="M108.24,515.50V518.50" stroke="#ff0000" stroke-width="2.0" fill="none"/><path d="M106.09,515.50H110.39M106.09,518.50H110.39" stroke="#ff0000" stroke-width="1.3" fill="none"/><path d="M119.30,506.00V510.00" stroke="#ff0000" stroke-width="2.0" fill="none"/><path d="M117.15,506.00H121.45M117.15,510.00H121.45" stroke="#ff0000" stroke-width="1.3" fill="none"/><path d="M130.36,493.00V500.60" stroke="#ff0000" stroke-width="2.0" fill="none"/><path d="M128.21,493.00H132.51M128.21,500.60H132.51" stroke="#ff0000" stroke-width="1.3" fill="none"/><path d="M141.42,477.70V486.90" stroke="#ff0000" stroke-width="2.0" fill="none"/><path d="M139.27,477.70H143.57M139.27,486.90H143.57" stroke="#ff0000" stroke-width="1.3" fill="none"/><path d="M152.48,461.00V471.60" stroke="#ff0000" stroke-width="2.0" fill="none"/><path d="M150.33,461.00H154.63M150.33,471.60H154.63" stroke="#ff0000" stroke-width="1.3" fill="none"/><path d="M163.54,441.50V455.50" stroke="#ff0000" stroke-width="2.0" fill="none"/><path d="M161.39,441.50H165.69M161.39,455.50H165.69" stroke="#ff0000" stroke-width="1.3" fill="none"/><path d="M174.60,424.00V440.00" stroke="#ff0000" stroke-width="2.0" fill="none"/><path d="M172.45,424.00H176.75M172.45,440.00H176.75" stroke="#ff0000" stroke-width="1.3" fill="none"/><path d="M185.66,406.50V424.50" stroke="#ff0000" stroke-width="2.0" fill="none"/><path d="M183.51,406.50H187.81M183.51,424.50H187.81" stroke="#ff0000" stroke-width="1.3" fill="none"/><path d="M196.72,394.50V411.50" stroke="#ff0000" stroke-width="2.0" fill="none"/><path d="M194.57,394.50H198.87M194.57,411.50H198.87" stroke="#ff0000" stroke-width="1.3" fill="none"/><path d="M207.78,385.00V402.00" stroke="#ff0000" stroke-width="2.0" fill="none"/><path d="M205.63,385.00H209.93M205.63,402.00H209.93" stroke="#ff0000" stroke-width="1.3" fill="none"/><path d="M218.84,377.00V394.00" stroke="#ff0000" stroke-width="2.0" fill="none"/><path d="M216.69,377.00H220.99M216.69,394.00H220.99" stroke="#ff0000" stroke-width="1.3" fill="none"/><path d="M229.90,368.70V385.30" stroke="#ff0000" stroke-width="2.0" fill="none"/><path d="M227.75,368.70H232.05M227.75,385.30H232.05" stroke="#ff0000" stroke-width="1.3" fill="none"/><path d="M240.96,363.70V379.30" stroke="#ff0000" stroke-width="2.0" fill="none"/><path d="M238.81,363.70H243.11M238.81,379.30H243.11" stroke="#ff0000" stroke-width="1.3" fill="none"/><path d="M252.02,358.00V375.00" stroke="#ff0000" stroke-width="2.0" fill="none"/><path d="M249.87,358.00H254.17M249.87,375.00H254.17" stroke="#ff0000" stroke-width="1.3" fill="none"/><path d="M263.08,354.50V370.50" stroke="#ff0000" stroke-width="2.0" fill="none"/><path d="M260.93,354.50H265.23M260.93,370.50H265.23" stroke="#ff0000" stroke-width="1.3" fill="none"/><path d="M274.14,352.80V368.80" stroke="#ff0000" stroke-width="2.0" fill="none"/><path d="M271.99,352.80H276.29M271.99,368.80H276.29" stroke="#ff0000" stroke-width="1.3" fill="none"/><path d="M285.20,352.00V368.00" stroke="#ff0000" stroke-width="2.0" fill="none"/><path d="M283.05,352.00H287.35M283.05,368.00H287.35" stroke="#ff0000" stroke-width="1.3" fill="none"/><circle cx="64.00" cy="540.00" r="3.1" fill="#ff0000" stroke="#000000" stroke-width="0.85"/><circle cx="75.06" cy="536.80" r="3.1" fill="#ff0000" stroke="#000000" stroke-width="0.85"/><circle cx="86.12" cy="531.30" r="3.1" fill="#ff0000" stroke="#000000" stroke-width="0.85"/><circle cx="97.18" cy="525.20" r="3.1" fill="#ff0000" stroke="#000000" stroke-width="0.85"/><circle cx="108.24" cy="517.00" r="3.1" fill="#ff0000" stroke="#000000" stroke-width="0.85"/><circle cx="119.30" cy="508.00" r="3.1" fill="#ff0000" stroke="#000000" stroke-width="0.85"/><circle cx="130.36" cy="496.80" r="3.1" fill="#ff0000" stroke="#000000" stroke-width="0.85"/><circle cx="141.42" cy="482.30" r="3.1" fill="#ff0000" stroke="#000000" stroke-width="0.85"/><circle cx="152.48" cy="466.30" r="3.1" fill="#ff0000" stroke="#000000" stroke-width="0.85"/><circle cx="163.54" cy="448.50" r="3.1" fill="#ff0000" stroke="#000000" stroke-width="0.85"/><circle cx="174.60" cy="432.00" r="3.1" fill="#ff0000" stroke="#000000" stroke-width="0.85"/><circle cx="185.66" cy="415.50" r="3.1" fill="#ff0000" stroke="#000000" stroke-width="0.85"/><circle cx="196.72" cy="403.00" r="3.1" fill="#ff0000" stroke="#000000" stroke-width="0.85"/><circle cx="207.78" cy="393.50" r="3.1" fill="#ff0000" stroke="#000000" stroke-width="0.85"/><circle cx="218.84" cy="385.50" r="3.1" fill="#ff0000" stroke="#000000" stroke-width="0.85"/><circle cx="229.90" cy="377.00" r="3.1" fill="#ff0000" stroke="#000000" stroke-width="0.85"/><circle cx="240.96" cy="371.50" r="3.1" fill="#ff0000" stroke="#000000" stroke-width="0.85"/><circle cx="252.02" cy="366.50" r="3.1" fill="#ff0000" stroke="#000000" stroke-width="0.85"/><circle cx="263.08" cy="362.50" r="3.1" fill="#ff0000" stroke="#000000" stroke-width="0.85"/><circle cx="274.14" cy="360.80" r="3.1" fill="#ff0000" stroke="#000000" stroke-width="0.85"/><circle cx="285.20" cy="360.00" r="3.1" fill="#ff0000" stroke="#000000" stroke-width="0.85"/>
<path d="M97.18,523.50V525.50" stroke="#008000" stroke-width="2.0" fill="none"/><path d="M95.03,523.50H99.33M95.03,525.50H99.33" stroke="#008000" stroke-width="1.3" fill="none"/><path d="M108.24,514.50V517.50" stroke="#008000" stroke-width="2.0" fill="none"/><path d="M106.09,514.50H110.39M106.09,517.50H110.39" stroke="#008000" stroke-width="1.3" fill="none"/><path d="M119.30,504.50V508.50" stroke="#008000" stroke-width="2.0" fill="none"/><path d="M117.15,504.50H121.45M117.15,508.50H121.45" stroke="#008000" stroke-width="1.3" fill="none"/><path d="M130.36,487.20V494.80" stroke="#008000" stroke-width="2.0" fill="none"/><path d="M128.21,487.20H132.51M128.21,494.80H132.51" stroke="#008000" stroke-width="1.3" fill="none"/><path d="M141.42,472.60V481.80" stroke="#008000" stroke-width="2.0" fill="none"/><path d="M139.27,472.60H143.57M139.27,481.80H143.57" stroke="#008000" stroke-width="1.3" fill="none"/><path d="M152.48,455.70V466.30" stroke="#008000" stroke-width="2.0" fill="none"/><path d="M150.33,455.70H154.63M150.33,466.30H154.63" stroke="#008000" stroke-width="1.3" fill="none"/><path d="M163.54,436.50V450.50" stroke="#008000" stroke-width="2.0" fill="none"/><path d="M161.39,436.50H165.69M161.39,450.50H165.69" stroke="#008000" stroke-width="1.3" fill="none"/><path d="M174.60,422.50V438.50" stroke="#008000" stroke-width="2.0" fill="none"/><path d="M172.45,422.50H176.75M172.45,438.50H176.75" stroke="#008000" stroke-width="1.3" fill="none"/><path d="M185.66,405.50V423.50" stroke="#008000" stroke-width="2.0" fill="none"/><path d="M183.51,405.50H187.81M183.51,423.50H187.81" stroke="#008000" stroke-width="1.3" fill="none"/><path d="M196.72,393.50V410.50" stroke="#008000" stroke-width="2.0" fill="none"/><path d="M194.57,393.50H198.87M194.57,410.50H198.87" stroke="#008000" stroke-width="1.3" fill="none"/><path d="M207.78,384.30V401.30" stroke="#008000" stroke-width="2.0" fill="none"/><path d="M205.63,384.30H209.93M205.63,401.30H209.93" stroke="#008000" stroke-width="1.3" fill="none"/><path d="M218.84,376.00V393.00" stroke="#008000" stroke-width="2.0" fill="none"/><path d="M216.69,376.00H220.99M216.69,393.00H220.99" stroke="#008000" stroke-width="1.3" fill="none"/><path d="M229.90,367.70V384.30" stroke="#008000" stroke-width="2.0" fill="none"/><path d="M227.75,367.70H232.05M227.75,384.30H232.05" stroke="#008000" stroke-width="1.3" fill="none"/><path d="M240.96,363.00V378.60" stroke="#008000" stroke-width="2.0" fill="none"/><path d="M238.81,363.00H243.11M238.81,378.60H243.11" stroke="#008000" stroke-width="1.3" fill="none"/><path d="M252.02,357.00V374.00" stroke="#008000" stroke-width="2.0" fill="none"/><path d="M249.87,357.00H254.17M249.87,374.00H254.17" stroke="#008000" stroke-width="1.3" fill="none"/><path d="M263.08,354.00V370.00" stroke="#008000" stroke-width="2.0" fill="none"/><path d="M260.93,354.00H265.23M260.93,370.00H265.23" stroke="#008000" stroke-width="1.3" fill="none"/><path d="M274.14,352.20V368.20" stroke="#008000" stroke-width="2.0" fill="none"/><path d="M271.99,352.20H276.29M271.99,368.20H276.29" stroke="#008000" stroke-width="1.3" fill="none"/><path d="M285.20,351.50V367.50" stroke="#008000" stroke-width="2.0" fill="none"/><path d="M283.05,351.50H287.35M283.05,367.50H287.35" stroke="#008000" stroke-width="1.3" fill="none"/><polygon points="60.80,537.00 67.20,537.00 64.00,543.20" fill="#008000" stroke="#000000" stroke-width="0.85"/><polygon points="71.86,533.70 78.26,533.70 75.06,539.90" fill="#008000" stroke="#000000" stroke-width="0.85"/><polygon points="82.92,528.20 89.32,528.20 86.12,534.40" fill="#008000" stroke="#000000" stroke-width="0.85"/><polygon points="93.98,522.00 100.38,522.00 97.18,528.20" fill="#008000" stroke="#000000" stroke-width="0.85"/><polygon points="105.04,513.50 111.44,513.50 108.24,519.70" fill="#008000" stroke="#000000" stroke-width="0.85"/><polygon points="116.10,504.00 122.50,504.00 119.30,510.20" fill="#008000" stroke="#000000" stroke-width="0.85"/><polygon points="127.16,488.50 133.56,488.50 130.36,494.70" fill="#008000" stroke="#000000" stroke-width="0.85"/><polygon points="138.22,474.70 144.62,474.70 141.42,480.90" fill="#008000" stroke="#000000" stroke-width="0.85"/><polygon points="149.28,458.50 155.68,458.50 152.48,464.70" fill="#008000" stroke="#000000" stroke-width="0.85"/><polygon points="160.34,441.00 166.74,441.00 163.54,447.20" fill="#008000" stroke="#000000" stroke-width="0.85"/><polygon points="171.40,428.00 177.80,428.00 174.60,434.20" fill="#008000" stroke="#000000" stroke-width="0.85"/><polygon points="182.46,412.00 188.86,412.00 185.66,418.20" fill="#008000" stroke="#000000" stroke-width="0.85"/><polygon points="193.52,399.50 199.92,399.50 196.72,405.70" fill="#008000" stroke="#000000" stroke-width="0.85"/><polygon points="204.58,390.30 210.98,390.30 207.78,396.50" fill="#008000" stroke="#000000" stroke-width="0.85"/><polygon points="215.64,382.00 222.04,382.00 218.84,388.20" fill="#008000" stroke="#000000" stroke-width="0.85"/><polygon points="226.70,373.50 233.10,373.50 229.90,379.70" fill="#008000" stroke="#000000" stroke-width="0.85"/><polygon points="237.76,368.30 244.16,368.30 240.96,374.50" fill="#008000" stroke="#000000" stroke-width="0.85"/><polygon points="248.82,363.00 255.22,363.00 252.02,369.20" fill="#008000" stroke="#000000" stroke-width="0.85"/><polygon points="259.88,359.50 266.28,359.50 263.08,365.70" fill="#008000" stroke="#000000" stroke-width="0.85"/><polygon points="270.94,357.70 277.34,357.70 274.14,363.90" fill="#008000" stroke="#000000" stroke-width="0.85"/><polygon points="282.00,357.00 288.40,357.00 285.20,363.20" fill="#008000" stroke="#000000" stroke-width="0.85"/>
<path d="M97.18,522.70V524.70" stroke="#0000ff" stroke-width="2.0" fill="none"/><path d="M95.03,522.70H99.33M95.03,524.70H99.33" stroke="#0000ff" stroke-width="1.3" fill="none"/><path d="M108.24,513.50V516.50" stroke="#0000ff" stroke-width="2.0" fill="none"/><path d="M106.09,513.50H110.39M106.09,516.50H110.39" stroke="#0000ff" stroke-width="1.3" fill="none"/><path d="M119.30,503.50V507.50" stroke="#0000ff" stroke-width="2.0" fill="none"/><path d="M117.15,503.50H121.45M117.15,507.50H121.45" stroke="#0000ff" stroke-width="1.3" fill="none"/><path d="M130.36,486.30V493.90" stroke="#0000ff" stroke-width="2.0" fill="none"/><path d="M128.21,486.30H132.51M128.21,493.90H132.51" stroke="#0000ff" stroke-width="1.3" fill="none"/><path d="M141.42,471.60V480.80" stroke="#0000ff" stroke-width="2.0" fill="none"/><path d="M139.27,471.60H143.57M139.27,480.80H143.57" stroke="#0000ff" stroke-width="1.3" fill="none"/><path d="M152.48,454.50V465.10" stroke="#0000ff" stroke-width="2.0" fill="none"/><path d="M150.33,454.50H154.63M150.33,465.10H154.63" stroke="#0000ff" stroke-width="1.3" fill="none"/><path d="M163.54,435.50V449.50" stroke="#0000ff" stroke-width="2.0" fill="none"/><path d="M161.39,435.50H165.69M161.39,449.50H165.69" stroke="#0000ff" stroke-width="1.3" fill="none"/><path d="M174.60,421.30V437.30" stroke="#0000ff" stroke-width="2.0" fill="none"/><path d="M172.45,421.30H176.75M172.45,437.30H176.75" stroke="#0000ff" stroke-width="1.3" fill="none"/><path d="M185.66,404.40V422.40" stroke="#0000ff" stroke-width="2.0" fill="none"/><path d="M183.51,404.40H187.81M183.51,422.40H187.81" stroke="#0000ff" stroke-width="1.3" fill="none"/><path d="M196.72,392.60V409.60" stroke="#0000ff" stroke-width="2.0" fill="none"/><path d="M194.57,392.60H198.87M194.57,409.60H198.87" stroke="#0000ff" stroke-width="1.3" fill="none"/><path d="M207.78,383.40V400.40" stroke="#0000ff" stroke-width="2.0" fill="none"/><path d="M205.63,383.40H209.93M205.63,400.40H209.93" stroke="#0000ff" stroke-width="1.3" fill="none"/><path d="M218.84,375.30V392.30" stroke="#0000ff" stroke-width="2.0" fill="none"/><path d="M216.69,375.30H220.99M216.69,392.30H220.99" stroke="#0000ff" stroke-width="1.3" fill="none"/><path d="M229.90,366.90V383.50" stroke="#0000ff" stroke-width="2.0" fill="none"/><path d="M227.75,366.90H232.05M227.75,383.50H232.05" stroke="#0000ff" stroke-width="1.3" fill="none"/><path d="M240.96,361.80V377.40" stroke="#0000ff" stroke-width="2.0" fill="none"/><path d="M238.81,361.80H243.11M238.81,377.40H243.11" stroke="#0000ff" stroke-width="1.3" fill="none"/><path d="M252.02,356.30V373.30" stroke="#0000ff" stroke-width="2.0" fill="none"/><path d="M249.87,356.30H254.17M249.87,373.30H254.17" stroke="#0000ff" stroke-width="1.3" fill="none"/><path d="M263.08,353.30V369.30" stroke="#0000ff" stroke-width="2.0" fill="none"/><path d="M260.93,353.30H265.23M260.93,369.30H265.23" stroke="#0000ff" stroke-width="1.3" fill="none"/><path d="M274.14,351.70V367.70" stroke="#0000ff" stroke-width="2.0" fill="none"/><path d="M271.99,351.70H276.29M271.99,367.70H276.29" stroke="#0000ff" stroke-width="1.3" fill="none"/><path d="M285.20,351.00V367.00" stroke="#0000ff" stroke-width="2.0" fill="none"/><path d="M283.05,351.00H287.35M283.05,367.00H287.35" stroke="#0000ff" stroke-width="1.3" fill="none"/><rect x="60.85" y="535.85" width="6.30" height="6.30" fill="#0000ff" stroke="#000000" stroke-width="0.85"/><rect x="71.91" y="532.45" width="6.30" height="6.30" fill="#0000ff" stroke="#000000" stroke-width="0.85"/><rect x="82.97" y="526.85" width="6.30" height="6.30" fill="#0000ff" stroke="#000000" stroke-width="0.85"/><rect x="94.03" y="520.55" width="6.30" height="6.30" fill="#0000ff" stroke="#000000" stroke-width="0.85"/><rect x="105.09" y="511.85" width="6.30" height="6.30" fill="#0000ff" stroke="#000000" stroke-width="0.85"/><rect x="116.15" y="502.35" width="6.30" height="6.30" fill="#0000ff" stroke="#000000" stroke-width="0.85"/><rect x="127.21" y="486.95" width="6.30" height="6.30" fill="#0000ff" stroke="#000000" stroke-width="0.85"/><rect x="138.27" y="473.05" width="6.30" height="6.30" fill="#0000ff" stroke="#000000" stroke-width="0.85"/><rect x="149.33" y="456.65" width="6.30" height="6.30" fill="#0000ff" stroke="#000000" stroke-width="0.85"/><rect x="160.39" y="439.35" width="6.30" height="6.30" fill="#0000ff" stroke="#000000" stroke-width="0.85"/><rect x="171.45" y="426.15" width="6.30" height="6.30" fill="#0000ff" stroke="#000000" stroke-width="0.85"/><rect x="182.51" y="410.25" width="6.30" height="6.30" fill="#0000ff" stroke="#000000" stroke-width="0.85"/><rect x="193.57" y="397.95" width="6.30" height="6.30" fill="#0000ff" stroke="#000000" stroke-width="0.85"/><rect x="204.63" y="388.75" width="6.30" height="6.30" fill="#0000ff" stroke="#000000" stroke-width="0.85"/><rect x="215.69" y="380.65" width="6.30" height="6.30" fill="#0000ff" stroke="#000000" stroke-width="0.85"/><rect x="226.75" y="372.05" width="6.30" height="6.30" fill="#0000ff" stroke="#000000" stroke-width="0.85"/><rect x="237.81" y="366.45" width="6.30" height="6.30" fill="#0000ff" stroke="#000000" stroke-width="0.85"/><rect x="248.87" y="361.65" width="6.30" height="6.30" fill="#0000ff" stroke="#000000" stroke-width="0.85"/><rect x="259.93" y="358.15" width="6.30" height="6.30" fill="#0000ff" stroke="#000000" stroke-width="0.85"/><rect x="270.99" y="356.55" width="6.30" height="6.30" fill="#0000ff" stroke="#000000" stroke-width="0.85"/><rect x="282.05" y="355.85" width="6.30" height="6.30" fill="#0000ff" stroke="#000000" stroke-width="0.85"/>
</g>
<g clip-path="url(#clipd)">
<rect x="379" y="319.8" width="221.1" height="234.3" fill="url(#gd)"/>
<polygon points="375.80,551.00 382.20,551.00 379.00,557.20" fill="#008000" stroke="#000000" stroke-width="0.85"/><polygon points="386.87,551.00 393.26,551.00 390.06,557.20" fill="#008000" stroke="#000000" stroke-width="0.85"/><polygon points="397.93,551.00 404.33,551.00 401.13,557.20" fill="#008000" stroke="#000000" stroke-width="0.85"/><polygon points="409.00,551.00 415.39,551.00 412.19,557.20" fill="#008000" stroke="#000000" stroke-width="0.85"/><polygon points="420.06,550.50 426.46,550.50 423.26,556.70" fill="#008000" stroke="#000000" stroke-width="0.85"/><polygon points="431.12,547.50 437.52,547.50 434.32,553.70" fill="#008000" stroke="#000000" stroke-width="0.85"/><polygon points="442.19,545.70 448.59,545.70 445.39,551.90" fill="#008000" stroke="#000000" stroke-width="0.85"/><polygon points="453.25,537.70 459.65,537.70 456.45,543.90" fill="#008000" stroke="#000000" stroke-width="0.85"/><polygon points="464.32,519.30 470.72,519.30 467.52,525.50" fill="#008000" stroke="#000000" stroke-width="0.85"/><polygon points="475.38,444.50 481.78,444.50 478.58,450.70" fill="#008000" stroke="#000000" stroke-width="0.85"/><polygon points="486.45,444.30 492.85,444.30 489.65,450.50" fill="#008000" stroke="#000000" stroke-width="0.85"/><polygon points="497.51,407.90 503.91,407.90 500.71,414.10" fill="#008000" stroke="#000000" stroke-width="0.85"/><polygon points="508.58,404.90 514.98,404.90 511.78,411.10" fill="#008000" stroke="#000000" stroke-width="0.85"/><polygon points="519.64,397.30 526.05,397.30 522.85,403.50" fill="#008000" stroke="#000000" stroke-width="0.85"/><polygon points="530.71,390.00 537.11,390.00 533.91,396.20" fill="#008000" stroke="#000000" stroke-width="0.85"/><polygon points="541.77,413.20 548.17,413.20 544.97,419.40" fill="#008000" stroke="#000000" stroke-width="0.85"/><polygon points="552.84,382.70 559.24,382.70 556.04,388.90" fill="#008000" stroke="#000000" stroke-width="0.85"/><polygon points="563.90,403.90 570.31,403.90 567.11,410.10" fill="#008000" stroke="#000000" stroke-width="0.85"/><polygon points="574.97,345.00 581.37,345.00 578.17,351.20" fill="#008000" stroke="#000000" stroke-width="0.85"/><polygon points="586.03,426.10 592.43,426.10 589.23,432.30" fill="#008000" stroke="#000000" stroke-width="0.85"/><polygon points="597.10,346.30 603.50,346.30 600.30,352.50" fill="#008000" stroke="#000000" stroke-width="0.85"/>
<circle cx="379.00" cy="422.00" r="3.1" fill="#ff0000" stroke="#000000" stroke-width="0.85"/><circle cx="390.06" cy="405.70" r="3.1" fill="#ff0000" stroke="#000000" stroke-width="0.85"/><circle cx="401.13" cy="440.00" r="3.1" fill="#ff0000" stroke="#000000" stroke-width="0.85"/><circle cx="412.19" cy="390.20" r="3.1" fill="#ff0000" stroke="#000000" stroke-width="0.85"/><circle cx="423.26" cy="378.00" r="3.1" fill="#ff0000" stroke="#000000" stroke-width="0.85"/><circle cx="434.32" cy="447.00" r="3.1" fill="#ff0000" stroke="#000000" stroke-width="0.85"/><circle cx="445.39" cy="398.80" r="3.1" fill="#ff0000" stroke="#000000" stroke-width="0.85"/><circle cx="456.45" cy="392.10" r="3.1" fill="#ff0000" stroke="#000000" stroke-width="0.85"/><circle cx="467.52" cy="375.00" r="3.1" fill="#ff0000" stroke="#000000" stroke-width="0.85"/><circle cx="478.58" cy="434.30" r="3.1" fill="#ff0000" stroke="#000000" stroke-width="0.85"/><circle cx="489.65" cy="350.80" r="3.1" fill="#ff0000" stroke="#000000" stroke-width="0.85"/><circle cx="500.71" cy="415.70" r="3.1" fill="#ff0000" stroke="#000000" stroke-width="0.85"/><circle cx="511.78" cy="413.30" r="3.1" fill="#ff0000" stroke="#000000" stroke-width="0.85"/><circle cx="533.91" cy="371.70" r="3.1" fill="#ff0000" stroke="#000000" stroke-width="0.85"/><circle cx="544.97" cy="388.50" r="3.1" fill="#ff0000" stroke="#000000" stroke-width="0.85"/><circle cx="556.04" cy="427.20" r="3.1" fill="#ff0000" stroke="#000000" stroke-width="0.85"/><circle cx="567.11" cy="371.10" r="3.1" fill="#ff0000" stroke="#000000" stroke-width="0.85"/><circle cx="578.17" cy="420.70" r="3.1" fill="#ff0000" stroke="#000000" stroke-width="0.85"/><circle cx="589.23" cy="376.00" r="3.1" fill="#ff0000" stroke="#000000" stroke-width="0.85"/><circle cx="600.30" cy="412.00" r="3.1" fill="#ff0000" stroke="#000000" stroke-width="0.85"/>
<polygon points="464.32,523.90 470.72,523.90 467.52,530.10" fill="#008000" stroke="#000000" stroke-width="0.85"/><polygon points="486.45,469.20 492.85,469.20 489.65,475.40" fill="#008000" stroke="#000000" stroke-width="0.85"/><polygon points="508.58,422.30 514.98,422.30 511.78,428.50" fill="#008000" stroke="#000000" stroke-width="0.85"/><polygon points="530.71,395.00 537.11,395.00 533.91,401.20" fill="#008000" stroke="#000000" stroke-width="0.85"/><polygon points="552.84,428.70 559.24,428.70 556.04,434.90" fill="#008000" stroke="#000000" stroke-width="0.85"/><polygon points="574.97,448.40 581.37,448.40 578.17,454.60" fill="#008000" stroke="#000000" stroke-width="0.85"/><polygon points="597.10,379.50 603.50,379.50 600.30,385.70" fill="#008000" stroke="#000000" stroke-width="0.85"/>
<rect x="375.85" y="550.25" width="6.30" height="6.30" fill="#0000ff" stroke="#000000" stroke-width="0.85"/><rect x="386.92" y="550.25" width="6.30" height="6.30" fill="#0000ff" stroke="#000000" stroke-width="0.85"/><rect x="397.98" y="550.25" width="6.30" height="6.30" fill="#0000ff" stroke="#000000" stroke-width="0.85"/><rect x="409.05" y="550.25" width="6.30" height="6.30" fill="#0000ff" stroke="#000000" stroke-width="0.85"/><rect x="420.11" y="550.05" width="6.30" height="6.30" fill="#0000ff" stroke="#000000" stroke-width="0.85"/><rect x="431.18" y="549.75" width="6.30" height="6.30" fill="#0000ff" stroke="#000000" stroke-width="0.85"/><rect x="442.24" y="548.85" width="6.30" height="6.30" fill="#0000ff" stroke="#000000" stroke-width="0.85"/><rect x="453.31" y="548.15" width="6.30" height="6.30" fill="#0000ff" stroke="#000000" stroke-width="0.85"/><rect x="464.37" y="543.35" width="6.30" height="6.30" fill="#0000ff" stroke="#000000" stroke-width="0.85"/><rect x="475.44" y="526.85" width="6.30" height="6.30" fill="#0000ff" stroke="#000000" stroke-width="0.85"/><rect x="486.50" y="477.15" width="6.30" height="6.30" fill="#0000ff" stroke="#000000" stroke-width="0.85"/><rect x="497.56" y="426.05" width="6.30" height="6.30" fill="#0000ff" stroke="#000000" stroke-width="0.85"/><rect x="508.63" y="416.55" width="6.30" height="6.30" fill="#0000ff" stroke="#000000" stroke-width="0.85"/><rect x="519.70" y="428.05" width="6.30" height="6.30" fill="#0000ff" stroke="#000000" stroke-width="0.85"/><rect x="530.76" y="456.65" width="6.30" height="6.30" fill="#0000ff" stroke="#000000" stroke-width="0.85"/><rect x="541.82" y="391.35" width="6.30" height="6.30" fill="#0000ff" stroke="#000000" stroke-width="0.85"/><rect x="552.89" y="398.25" width="6.30" height="6.30" fill="#0000ff" stroke="#000000" stroke-width="0.85"/><rect x="563.96" y="391.95" width="6.30" height="6.30" fill="#0000ff" stroke="#000000" stroke-width="0.85"/><rect x="575.02" y="384.95" width="6.30" height="6.30" fill="#0000ff" stroke="#000000" stroke-width="0.85"/><rect x="586.08" y="402.25" width="6.30" height="6.30" fill="#0000ff" stroke="#000000" stroke-width="0.85"/><rect x="597.15" y="431.05" width="6.30" height="6.30" fill="#0000ff" stroke="#000000" stroke-width="0.85"/>
</g>
<path d="M63.80,240.90v4.0M63.80,6.75v-4.0M97.12,240.90v2.2M97.12,6.75v-2.2M116.62,240.90v2.2M116.62,6.75v-2.2M130.45,240.90v2.2M130.45,6.75v-2.2M141.18,240.90v2.2M141.18,6.75v-2.2M149.94,240.90v2.2M149.94,6.75v-2.2M157.35,240.90v2.2M157.35,6.75v-2.2M163.77,240.90v2.2M163.77,6.75v-2.2M169.43,240.90v2.2M169.43,6.75v-2.2M174.50,240.90v4.0M174.50,6.75v-4.0M207.82,240.90v2.2M207.82,6.75v-2.2M227.32,240.90v2.2M227.32,6.75v-2.2M241.15,240.90v2.2M241.15,6.75v-2.2M251.88,240.90v2.2M251.88,6.75v-2.2M260.64,240.90v2.2M260.64,6.75v-2.2M268.05,240.90v2.2M268.05,6.75v-2.2M274.47,240.90v2.2M274.47,6.75v-2.2M280.13,240.90v2.2M280.13,6.75v-2.2M285.20,240.90v4M285.20,6.75v-4" stroke="#000" stroke-width="1.15" fill="none"/>
<path d="M63.80,6.75h-4.3M285.20,6.75h4.3M63.80,71.79h-4.3M285.20,71.79h4.3M63.80,136.83h-4.3M285.20,136.83h4.3M63.80,201.88h-4.3M285.20,201.88h4.3" stroke="#000" stroke-width="1.15" fill="none"/>
<rect x="63.8" y="6.75" width="221.40" height="234.15" fill="none" stroke="#111" stroke-width="1.7"/>
<path d="M378.95,240.90v4.0M378.95,6.70v-4.0M412.24,240.90v2.2M412.24,6.70v-2.2M431.72,240.90v2.2M431.72,6.70v-2.2M445.54,240.90v2.2M445.54,6.70v-2.2M456.26,240.90v2.2M456.26,6.70v-2.2M465.01,240.90v2.2M465.01,6.70v-2.2M472.42,240.90v2.2M472.42,6.70v-2.2M478.83,240.90v2.2M478.83,6.70v-2.2M484.49,240.90v2.2M484.49,6.70v-2.2M489.55,240.90v4.0M489.55,6.70v-4.0M522.84,240.90v2.2M522.84,6.70v-2.2M542.32,240.90v2.2M542.32,6.70v-2.2M556.14,240.90v2.2M556.14,6.70v-2.2M566.86,240.90v2.2M566.86,6.70v-2.2M575.61,240.90v2.2M575.61,6.70v-2.2M583.02,240.90v2.2M583.02,6.70v-2.2M589.43,240.90v2.2M589.43,6.70v-2.2M595.09,240.90v2.2M595.09,6.70v-2.2M600.15,240.90v4M600.15,6.70v-4" stroke="#000" stroke-width="1.15" fill="none"/>
<path d="M378.95,6.70h-4.3M600.15,6.70h4.3M378.95,40.16h-4.3M600.15,40.16h4.3M378.95,73.61h-4.3M600.15,73.61h4.3M378.95,107.07h-4.3M600.15,107.07h4.3M378.95,140.53h-4.3M600.15,140.53h4.3M378.95,173.99h-4.3M600.15,173.99h4.3M378.95,207.44h-4.3M600.15,207.44h4.3M378.95,240.90h-4.3M600.15,240.90h4.3" stroke="#000" stroke-width="1.15" fill="none"/>
<rect x="378.95" y="6.7" width="221.20" height="234.20" fill="none" stroke="#111" stroke-width="1.7"/>
<path d="M64.00,554.00v4.0M64.00,319.90v-4.0M97.29,554.00v2.2M97.29,319.90v-2.2M116.77,554.00v2.2M116.77,319.90v-2.2M130.59,554.00v2.2M130.59,319.90v-2.2M141.31,554.00v2.2M141.31,319.90v-2.2M150.06,554.00v2.2M150.06,319.90v-2.2M157.47,554.00v2.2M157.47,319.90v-2.2M163.88,554.00v2.2M163.88,319.90v-2.2M169.54,554.00v2.2M169.54,319.90v-2.2M174.60,554.00v4.0M174.60,319.90v-4.0M207.89,554.00v2.2M207.89,319.90v-2.2M227.37,554.00v2.2M227.37,319.90v-2.2M241.19,554.00v2.2M241.19,319.90v-2.2M251.91,554.00v2.2M251.91,319.90v-2.2M260.66,554.00v2.2M260.66,319.90v-2.2M268.07,554.00v2.2M268.07,319.90v-2.2M274.48,554.00v2.2M274.48,319.90v-2.2M280.14,554.00v2.2M280.14,319.90v-2.2M285.20,554.00v4M285.20,319.90v-4" stroke="#000" stroke-width="1.15" fill="none"/>
<path d="M64.00,319.90h-4.3M285.20,319.90h4.3M64.00,358.92h-4.3M285.20,358.92h4.3M64.00,397.93h-4.3M285.20,397.93h4.3M64.00,436.95h-4.3M285.20,436.95h4.3M64.00,475.97h-4.3M285.20,475.97h4.3M64.00,514.98h-4.3M285.20,514.98h4.3M64.00,554.00h-4.3M285.20,554.00h4.3" stroke="#000" stroke-width="1.15" fill="none"/>
<rect x="64.0" y="319.9" width="221.20" height="234.10" fill="none" stroke="#111" stroke-width="1.7"/>
<path d="M379.00,554.00v4.0M379.00,319.90v-4.0M412.31,554.00v2.2M412.31,319.90v-2.2M431.79,554.00v2.2M431.79,319.90v-2.2M445.62,554.00v2.2M445.62,319.90v-2.2M456.34,554.00v2.2M456.34,319.90v-2.2M465.10,554.00v2.2M465.10,319.90v-2.2M472.51,554.00v2.2M472.51,319.90v-2.2M478.93,554.00v2.2M478.93,319.90v-2.2M484.59,554.00v2.2M484.59,319.90v-2.2M489.65,554.00v4.0M489.65,319.90v-4.0M522.96,554.00v2.2M522.96,319.90v-2.2M542.44,554.00v2.2M542.44,319.90v-2.2M556.27,554.00v2.2M556.27,319.90v-2.2M566.99,554.00v2.2M566.99,319.90v-2.2M575.75,554.00v2.2M575.75,319.90v-2.2M583.16,554.00v2.2M583.16,319.90v-2.2M589.58,554.00v2.2M589.58,319.90v-2.2M595.24,554.00v2.2M595.24,319.90v-2.2M600.30,554.00v4M600.30,319.90v-4" stroke="#000" stroke-width="1.15" fill="none"/>
<path d="M379.00,319.90h-4.3M600.30,319.90h4.3M379.00,353.34h-4.3M600.30,353.34h4.3M379.00,386.79h-4.3M600.30,386.79h4.3M379.00,420.23h-4.3M600.30,420.23h4.3M379.00,453.67h-4.3M600.30,453.67h4.3M379.00,487.11h-4.3M600.30,487.11h4.3M379.00,520.56h-4.3M600.30,520.56h4.3M379.00,554.00h-4.3M600.30,554.00h4.3" stroke="#000" stroke-width="1.15" fill="none"/>
<rect x="379.0" y="319.9" width="221.30" height="234.10" fill="none" stroke="#111" stroke-width="1.7"/>
<g style="opacity:0.995;stroke:#000;stroke-width:0.35px"><text transform="translate(24.32,11.15) scale(0.9118,1.0200)" style="font-family:'Liberation Sans',sans-serif;fill:#000;font-size:14px">1.000</text><text transform="translate(24.54,76.19) scale(0.9118,1.0200)" style="font-family:'Liberation Sans',sans-serif;fill:#000;font-size:14px">0.995</text><text transform="translate(24.32,141.23) scale(0.9118,1.0200)" style="font-family:'Liberation Sans',sans-serif;fill:#000;font-size:14px">0.990</text><text transform="translate(24.54,206.27) scale(0.9118,1.0200)" style="font-family:'Liberation Sans',sans-serif;fill:#000;font-size:14px">0.985</text><text transform="translate(342.38,11.09) scale(0.9118,1.0200)" style="font-family:'Liberation Sans',sans-serif;fill:#000;font-size:14px">0.14</text><text transform="translate(342.61,44.55) scale(0.9118,1.0200)" style="font-family:'Liberation Sans',sans-serif;fill:#000;font-size:14px">0.12</text><text transform="translate(342.61,78.01) scale(0.9118,1.0200)" style="font-family:'Liberation Sans',sans-serif;fill:#000;font-size:14px">0.10</text><text transform="translate(342.61,111.47) scale(0.9118,1.0200)" style="font-family:'Liberation Sans',sans-serif;fill:#000;font-size:14px">0.08</text><text transform="translate(342.61,144.92) scale(0.9118,1.0200)" style="font-family:'Liberation Sans',sans-serif;fill:#000;font-size:14px">0.06</text><text transform="translate(342.38,178.38) scale(0.9118,1.0200)" style="font-family:'Liberation Sans',sans-serif;fill:#000;font-size:14px">0.04</text><text transform="translate(342.61,211.84) scale(0.9118,1.0200)" style="font-family:'Liberation Sans',sans-serif;fill:#000;font-size:14px">0.02</text><text transform="translate(342.61,245.30) scale(0.9118,1.0200)" style="font-family:'Liberation Sans',sans-serif;fill:#000;font-size:14px">0.00</text><text transform="translate(29.71,324.29) scale(0.9118,1.0200)" style="font-family:'Liberation Sans',sans-serif;fill:#000;font-size:14px">0.12</text><text transform="translate(29.71,363.31) scale(0.9118,1.0200)" style="font-family:'Liberation Sans',sans-serif;fill:#000;font-size:14px">0.10</text><text transform="translate(29.71,402.33) scale(0.9118,1.0200)" style="font-family:'Liberation Sans',sans-serif;fill:#000;font-size:14px">0.08</text><text transform="translate(29.71,441.34) scale(0.9118,1.0200)" style="font-family:'Liberation Sans',sans-serif;fill:#000;font-size:14px">0.06</text><text transform="translate(29.48,480.36) scale(0.9118,1.0200)" style="font-family:'Liberation Sans',sans-serif;fill:#000;font-size:14px">0.04</text><text transform="translate(29.71,519.38) scale(0.9118,1.0200)" style="font-family:'Liberation Sans',sans-serif;fill:#000;font-size:14px">0.02</text><text transform="translate(29.71,558.39) scale(0.9118,1.0200)" style="font-family:'Liberation Sans',sans-serif;fill:#000;font-size:14px">0.00</text><text transform="translate(352.38,324.29) scale(0.9118,1.0200)" style="font-family:'Liberation Sans',sans-serif;fill:#000;font-size:14px">0.7</text><text transform="translate(352.38,357.74) scale(0.9118,1.0200)" style="font-family:'Liberation Sans',sans-serif;fill:#000;font-size:14px">0.6</text><text transform="translate(352.38,391.18) scale(0.9118,1.0200)" style="font-family:'Liberation Sans',sans-serif;fill:#000;font-size:14px">0.5</text><text transform="translate(352.15,424.62) scale(0.9118,1.0200)" style="font-family:'Liberation Sans',sans-serif;fill:#000;font-size:14px">0.4</text><text transform="translate(352.38,458.07) scale(0.9118,1.0200)" style="font-family:'Liberation Sans',sans-serif;fill:#000;font-size:14px">0.3</text><text transform="translate(352.38,491.51) scale(0.9118,1.0200)" style="font-family:'Liberation Sans',sans-serif;fill:#000;font-size:14px">0.2</text><text transform="translate(352.38,524.95) scale(0.9118,1.0200)" style="font-family:'Liberation Sans',sans-serif;fill:#000;font-size:14px">0.1</text><text transform="translate(352.38,558.39) scale(0.9118,1.0200)" style="font-family:'Liberation Sans',sans-serif;fill:#000;font-size:14px">0.0</text><text transform="translate(49.75,261.54) scale(0.9208,1.0244)" style="font-family:'Liberation Serif',serif;fill:#000;font-size:15px">10</text><text transform="translate(72.86,255.59) scale(0.7875,0.8533)" style="font-family:'Liberation Serif',serif;fill:#000;font-size:10.5px">1</text><rect x="65.30" y="252.80" width="5.9" height="1.1" fill="#000" stroke="none"/><text transform="translate(164.70,261.54) scale(0.9208,1.0244)" style="font-family:'Liberation Serif',serif;fill:#000;font-size:15px">10</text><text transform="translate(179.38,256.16) scale(0.8947,0.9733)" style="font-family:'Liberation Serif',serif;fill:#000;font-size:10.5px">0</text><text transform="translate(275.55,261.54) scale(0.9208,1.0244)" style="font-family:'Liberation Serif',serif;fill:#000;font-size:15px">10</text><text transform="translate(290.71,255.93) scale(0.7250,0.8800)" style="font-family:'Liberation Serif',serif;fill:#000;font-size:10.5px">1</text><text transform="translate(364.90,263.04) scale(0.9208,1.0244)" style="font-family:'Liberation Serif',serif;fill:#000;font-size:15px">10</text><text transform="translate(388.01,257.09) scale(0.7875,0.8533)" style="font-family:'Liberation Serif',serif;fill:#000;font-size:10.5px">1</text><rect x="380.45" y="254.30" width="5.9" height="1.1" fill="#000" stroke="none"/><text transform="translate(479.75,263.04) scale(0.9208,1.0244)" style="font-family:'Liberation Serif',serif;fill:#000;font-size:15px">10</text><text transform="translate(494.43,257.66) scale(0.8947,0.9733)" style="font-family:'Liberation Serif',serif;fill:#000;font-size:10.5px">0</text><text transform="translate(590.50,263.04) scale(0.9208,1.0244)" style="font-family:'Liberation Serif',serif;fill:#000;font-size:15px">10</text><text transform="translate(605.66,257.43) scale(0.7250,0.8800)" style="font-family:'Liberation Serif',serif;fill:#000;font-size:10.5px">1</text><text transform="translate(49.95,576.24) scale(0.9208,1.0244)" style="font-family:'Liberation Serif',serif;fill:#000;font-size:15px">10</text><text transform="translate(73.06,570.29) scale(0.7875,0.8533)" style="font-family:'Liberation Serif',serif;fill:#000;font-size:10.5px">1</text><rect x="65.50" y="567.50" width="5.9" height="1.1" fill="#000" stroke="none"/><text transform="translate(164.80,576.24) scale(0.9208,1.0244)" style="font-family:'Liberation Serif',serif;fill:#000;font-size:15px">10</text><text transform="translate(179.48,570.86) scale(0.8947,0.9733)" style="font-family:'Liberation Serif',serif;fill:#000;font-size:10.5px">0</text><text transform="translate(275.55,576.24) scale(0.9208,1.0244)" style="font-family:'Liberation Serif',serif;fill:#000;font-size:15px">10</text><text transform="translate(290.71,570.63) scale(0.7250,0.8800)" style="font-family:'Liberation Serif',serif;fill:#000;font-size:10.5px">1</text><text transform="translate(364.95,576.14) scale(0.9208,1.0244)" style="font-family:'Liberation Serif',serif;fill:#000;font-size:15px">10</text><text transform="translate(388.06,570.19) scale(0.7875,0.8533)" style="font-family:'Liberation Serif',serif;fill:#000;font-size:10.5px">1</text><rect x="380.50" y="567.40" width="5.9" height="1.1" fill="#000" stroke="none"/><text transform="translate(479.85,576.14) scale(0.9208,1.0244)" style="font-family:'Liberation Serif',serif;fill:#000;font-size:15px">10</text><text transform="translate(494.53,570.76) scale(0.8947,0.9733)" style="font-family:'Liberation Serif',serif;fill:#000;font-size:10.5px">0</text><text transform="translate(590.65,576.14) scale(0.9208,1.0244)" style="font-family:'Liberation Serif',serif;fill:#000;font-size:15px">10</text><text transform="translate(605.81,570.53) scale(0.7250,0.8800)" style="font-family:'Liberation Serif',serif;fill:#000;font-size:10.5px">1</text><text transform="translate(134.09,283.35) scale(0.8186,1.0000)" style="font-family:'Liberation Sans',sans-serif;fill:#000;font-size:15.5px"><tspan font-style="italic">C</tspan></text><text transform="translate(143.30,285.87) scale(0.9630,0.9333)" style="font-family:'Liberation Sans',sans-serif;fill:#000;font-size:11px">T</text><text transform="translate(156.08,283.81) scale(0.9211,1.1119)" style="font-family:'Liberation Sans',sans-serif;fill:#000;font-size:15.5px">[rad EeV]</text><text transform="translate(448.69,283.35) scale(0.8186,1.0000)" style="font-family:'Liberation Sans',sans-serif;fill:#000;font-size:15.5px"><tspan font-style="italic">C</tspan></text><text transform="translate(457.90,285.87) scale(0.9630,0.9333)" style="font-family:'Liberation Sans',sans-serif;fill:#000;font-size:11px">T</text><text transform="translate(470.68,283.81) scale(0.9211,1.1119)" style="font-family:'Liberation Sans',sans-serif;fill:#000;font-size:15.5px">[rad EeV]</text><text transform="translate(134.09,596.95) scale(0.8186,1.0000)" style="font-family:'Liberation Sans',sans-serif;fill:#000;font-size:15.5px"><tspan font-style="italic">C</tspan></text><text transform="translate(143.30,599.47) scale(0.9630,0.9333)" style="font-family:'Liberation Sans',sans-serif;fill:#000;font-size:11px">T</text><text transform="translate(156.08,597.41) scale(0.9211,1.1119)" style="font-family:'Liberation Sans',sans-serif;fill:#000;font-size:15.5px">[rad EeV]</text><text transform="translate(448.69,596.95) scale(0.8186,1.0000)" style="font-family:'Liberation Sans',sans-serif;fill:#000;font-size:15.5px"><tspan font-style="italic">C</tspan></text><text transform="translate(457.90,599.47) scale(0.9630,0.9333)" style="font-family:'Liberation Sans',sans-serif;fill:#000;font-size:11px">T</text><text transform="translate(470.68,597.41) scale(0.9211,1.1119)" style="font-family:'Liberation Sans',sans-serif;fill:#000;font-size:15.5px">[rad EeV]</text><text transform="translate(11.20,155.59) rotate(-90) scale(0.9554,0.9826)" style="font-family:'Liberation Sans',sans-serif;fill:#000;font-size:15.5px">Thrust</text><text transform="translate(11.49,105.75) rotate(-90) scale(1.0378,1.0545)" style="font-family:'Liberation Sans',sans-serif;fill:#000;font-size:15.5px"><tspan font-style="italic">T</tspan></text><text transform="translate(14.01,96.07) rotate(-90) scale(0.7000,0.9576)" style="font-family:'Liberation Sans',sans-serif;fill:#000;font-size:11px">1</text><text transform="translate(329.95,177.90) rotate(-90) scale(0.9925,1.0576)" style="font-family:'Liberation Sans',sans-serif;fill:#000;font-size:15.5px">Thrust Major</text><text transform="translate(329.39,83.92) rotate(-90) scale(1.0162,1.0545)" style="font-family:'Liberation Sans',sans-serif;fill:#000;font-size:15.5px"><tspan font-style="italic">T</tspan></text><text transform="translate(331.91,75.22) rotate(-90) scale(0.9333,0.9576)" style="font-family:'Liberation Sans',sans-serif;fill:#000;font-size:11px">2</text><text transform="translate(19.40,490.90) rotate(-90) scale(0.9948,1.0087)" style="font-family:'Liberation Sans',sans-serif;fill:#000;font-size:15.5px">Thrust Minor</text><text transform="translate(19.19,396.98) rotate(-90) scale(0.9838,1.0364)" style="font-family:'Liberation Sans',sans-serif;fill:#000;font-size:15.5px"><tspan font-style="italic">T</tspan></text><text transform="translate(21.92,387.64) rotate(-90) scale(0.7636,0.9212)" style="font-family:'Liberation Sans',sans-serif;fill:#000;font-size:11px">3</text><text transform="translate(341.70,500.12) rotate(-90) scale(0.9396,1.0087)" style="font-family:'Liberation Sans',sans-serif;fill:#000;font-size:15.5px">Circular Variance</text><text transform="translate(341.68,382.93) rotate(-90) scale(0.9429,1.0818)" style="font-family:'Liberation Sans',sans-serif;fill:#000;font-size:15.5px"><tspan font-style="italic">V</tspan></text><text transform="translate(256.00,27.31) scale(1.0685,0.9677)" style="font-family:'Liberation Sans',sans-serif;fill:#000;font-size:16px;font-weight:bold">(a)</text><text transform="translate(571.28,28.05) scale(1.0947,1.0129)" style="font-family:'Liberation Sans',sans-serif;fill:#000;font-size:16px;font-weight:bold">(b)</text><text transform="translate(257.91,341.02) scale(1.0521,0.9935)" style="font-family:'Liberation Sans',sans-serif;fill:#000;font-size:16px;font-weight:bold">(c)</text><text transform="translate(570.81,339.31) scale(1.0474,0.9677)" style="font-family:'Liberation Sans',sans-serif;fill:#000;font-size:16px;font-weight:bold">(d)</text></g>
</svg>
</body></html>
